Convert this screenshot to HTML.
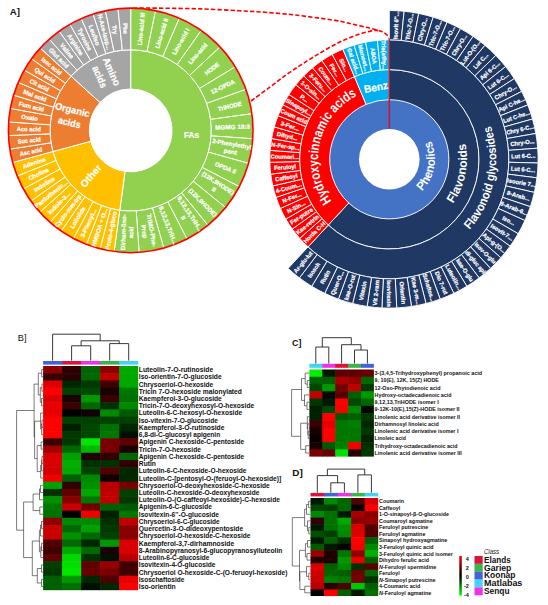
<!DOCTYPE html>
<html><head><meta charset="utf-8"><title>Figure</title>
<style>html,body{margin:0;padding:0;background:#fff;}svg{display:block;}text{font-family:"Liberation Sans",sans-serif;}</style></head><body>
<svg width="548" height="605" viewBox="0 0 548 605">
<rect width="548" height="605" fill="#fff"/>
<path d="M133.00,8.00 C138.00,8.03 151.57,8.05 163.00,8.20 C174.43,8.35 188.77,8.47 201.60,8.90 C214.43,9.33 229.43,10.23 240.00,10.80 C250.57,11.37 255.83,11.60 265.00,12.30 C274.17,13.00 283.33,13.65 295.00,15.00 C306.67,16.35 325.67,18.93 335.00,20.40 C344.33,21.87 345.42,22.57 351.00,23.80 C356.58,25.03 363.50,26.55 368.50,27.80 C373.50,29.05 378.00,30.18 381.00,31.30 C384.00,32.42 385.08,33.25 386.50,34.50 C387.92,35.75 389.00,38.08 389.50,38.80" fill="none" stroke="#FF0000" stroke-width="1.6" stroke-dasharray="4.4,2.1"/>
<path d="M251.00,101.00 C254.03,98.77 263.25,92.02 269.20,87.60 C275.15,83.18 280.87,78.63 286.70,74.50 C292.53,70.37 298.35,66.55 304.20,62.80 C310.05,59.05 315.95,55.42 321.80,52.00 C327.65,48.58 333.47,45.13 339.30,42.30 C345.13,39.47 351.45,36.90 356.80,35.00 C362.15,33.10 367.87,31.67 371.40,30.90 C374.93,30.13 376.90,30.48 378.00,30.40" fill="none" stroke="#FF0000" stroke-width="1.6" stroke-dasharray="4.4,2.1"/>
<path d="M130.70,49.80 A80.60,80.60 0 1 1 119.76,210.25 L125.08,171.42 A41.40,41.40 0 1 0 130.70,89.00 Z" fill="#92D050" stroke="#fff" stroke-width="1.0"/>
<path d="M130.70,8.10 A122.30,122.30 0 0 1 155.58,10.66 L147.10,51.49 A80.60,80.60 0 0 0 130.70,49.80 Z" fill="#92D050" stroke="#fff" stroke-width="1.0"/>
<path d="M155.58,10.66 A122.30,122.30 0 0 1 179.42,18.22 L162.81,56.47 A80.60,80.60 0 0 0 147.10,51.49 Z" fill="#92D050" stroke="#fff" stroke-width="1.0"/>
<path d="M179.42,18.22 A122.30,122.30 0 0 1 201.22,30.48 L177.17,64.55 A80.60,80.60 0 0 0 162.81,56.47 Z" fill="#92D050" stroke="#fff" stroke-width="1.0"/>
<path d="M201.22,30.48 A122.30,122.30 0 0 1 220.07,46.91 L189.60,75.38 A80.60,80.60 0 0 0 177.17,64.55 Z" fill="#92D050" stroke="#fff" stroke-width="1.0"/>
<path d="M220.07,46.91 A122.30,122.30 0 0 1 235.19,66.84 L199.56,88.51 A80.60,80.60 0 0 0 189.60,75.38 Z" fill="#92D050" stroke="#fff" stroke-width="1.0"/>
<path d="M235.19,66.84 A122.30,122.30 0 0 1 245.93,89.42 L206.64,103.40 A80.60,80.60 0 0 0 199.56,88.51 Z" fill="#92D050" stroke="#fff" stroke-width="1.0"/>
<path d="M245.93,89.42 A122.30,122.30 0 0 1 251.86,113.72 L210.55,119.41 A80.60,80.60 0 0 0 206.64,103.40 Z" fill="#92D050" stroke="#fff" stroke-width="1.0"/>
<path d="M251.86,113.72 A122.30,122.30 0 0 1 252.72,138.72 L211.11,135.88 A80.60,80.60 0 0 0 210.55,119.41 Z" fill="#92D050" stroke="#fff" stroke-width="1.0"/>
<path d="M252.72,138.72 A122.30,122.30 0 0 1 248.47,163.37 L208.32,152.13 A80.60,80.60 0 0 0 211.11,135.88 Z" fill="#92D050" stroke="#fff" stroke-width="1.0"/>
<path d="M248.47,163.37 A122.30,122.30 0 0 1 239.30,186.64 L202.27,167.46 A80.60,80.60 0 0 0 208.32,152.13 Z" fill="#92D050" stroke="#fff" stroke-width="1.0"/>
<path d="M239.30,186.64 A122.30,122.30 0 0 1 225.59,207.55 L193.24,181.25 A80.60,80.60 0 0 0 202.27,167.46 Z" fill="#92D050" stroke="#fff" stroke-width="1.0"/>
<path d="M225.59,207.55 A122.30,122.30 0 0 1 207.91,225.24 L181.59,192.90 A80.60,80.60 0 0 0 193.24,181.25 Z" fill="#92D050" stroke="#fff" stroke-width="1.0"/>
<path d="M207.91,225.24 A122.30,122.30 0 0 1 187.01,238.97 L167.81,201.95 A80.60,80.60 0 0 0 181.59,192.90 Z" fill="#92D050" stroke="#fff" stroke-width="1.0"/>
<path d="M187.01,238.97 A122.30,122.30 0 0 1 163.74,248.15 L152.48,208.00 A80.60,80.60 0 0 0 167.81,201.95 Z" fill="#92D050" stroke="#fff" stroke-width="1.0"/>
<path d="M163.74,248.15 A122.30,122.30 0 0 1 139.10,252.41 L136.23,210.81 A80.60,80.60 0 0 0 152.48,208.00 Z" fill="#92D050" stroke="#fff" stroke-width="1.0"/>
<path d="M139.10,252.41 A122.30,122.30 0 0 1 114.10,251.57 L119.76,210.25 A80.60,80.60 0 0 0 136.23,210.81 Z" fill="#92D050" stroke="#fff" stroke-width="1.0"/>
<path d="M119.76,210.25 A80.60,80.60 0 0 1 52.92,151.53 L90.75,141.25 A41.40,41.40 0 0 0 125.08,171.42 Z" fill="#FFC000" stroke="#fff" stroke-width="1.0"/>
<path d="M114.10,251.57 A122.30,122.30 0 0 1 100.08,248.80 L110.52,208.43 A80.60,80.60 0 0 0 119.76,210.25 Z" fill="#FFC000" stroke="#fff" stroke-width="1.0"/>
<path d="M100.08,248.80 A122.30,122.30 0 0 1 86.47,244.42 L101.55,205.55 A80.60,80.60 0 0 0 110.52,208.43 Z" fill="#FFC000" stroke="#fff" stroke-width="1.0"/>
<path d="M86.47,244.42 A122.30,122.30 0 0 1 73.47,238.48 L92.98,201.63 A80.60,80.60 0 0 0 101.55,205.55 Z" fill="#FFC000" stroke="#fff" stroke-width="1.0"/>
<path d="M73.47,238.48 A122.30,122.30 0 0 1 61.25,231.07 L84.93,196.74 A80.60,80.60 0 0 0 92.98,201.63 Z" fill="#FFC000" stroke="#fff" stroke-width="1.0"/>
<path d="M61.25,231.07 A122.30,122.30 0 0 1 49.98,222.28 L77.50,190.95 A80.60,80.60 0 0 0 84.93,196.74 Z" fill="#FFC000" stroke="#fff" stroke-width="1.0"/>
<path d="M49.98,222.28 A122.30,122.30 0 0 1 39.81,212.23 L70.80,184.33 A80.60,80.60 0 0 0 77.50,190.95 Z" fill="#FFC000" stroke="#fff" stroke-width="1.0"/>
<path d="M39.81,212.23 A122.30,122.30 0 0 1 30.89,201.07 L64.92,176.98 A80.60,80.60 0 0 0 70.80,184.33 Z" fill="#FFC000" stroke="#fff" stroke-width="1.0"/>
<path d="M30.89,201.07 A122.30,122.30 0 0 1 23.32,188.94 L59.93,168.98 A80.60,80.60 0 0 0 64.92,176.98 Z" fill="#FFC000" stroke="#fff" stroke-width="1.0"/>
<path d="M23.32,188.94 A122.30,122.30 0 0 1 17.23,176.02 L55.92,160.46 A80.60,80.60 0 0 0 59.93,168.98 Z" fill="#FFC000" stroke="#fff" stroke-width="1.0"/>
<path d="M17.23,176.02 A122.30,122.30 0 0 1 12.68,162.47 L52.92,151.53 A80.60,80.60 0 0 0 55.92,160.46 Z" fill="#FFC000" stroke="#fff" stroke-width="1.0"/>
<path d="M52.92,151.53 A80.60,80.60 0 0 1 71.09,76.16 L100.08,102.54 A41.40,41.40 0 0 0 90.75,141.25 Z" fill="#ED7D31" stroke="#fff" stroke-width="1.0"/>
<path d="M12.68,162.47 A122.30,122.30 0 0 1 9.84,149.13 L51.05,142.75 A80.60,80.60 0 0 0 52.92,151.53 Z" fill="#ED7D31" stroke="#fff" stroke-width="1.0"/>
<path d="M9.84,149.13 A122.30,122.30 0 0 1 8.51,135.57 L50.17,133.81 A80.60,80.60 0 0 0 51.05,142.75 Z" fill="#ED7D31" stroke="#fff" stroke-width="1.0"/>
<path d="M8.51,135.57 A122.30,122.30 0 0 1 8.69,121.94 L50.29,124.82 A80.60,80.60 0 0 0 50.17,133.81 Z" fill="#ED7D31" stroke="#fff" stroke-width="1.0"/>
<path d="M8.69,121.94 A122.30,122.30 0 0 1 10.39,108.42 L51.41,115.91 A80.60,80.60 0 0 0 50.29,124.82 Z" fill="#ED7D31" stroke="#fff" stroke-width="1.0"/>
<path d="M10.39,108.42 A122.30,122.30 0 0 1 13.59,95.16 L53.52,107.18 A80.60,80.60 0 0 0 51.41,115.91 Z" fill="#ED7D31" stroke="#fff" stroke-width="1.0"/>
<path d="M13.59,95.16 A122.30,122.30 0 0 1 18.23,82.35 L56.58,98.73 A80.60,80.60 0 0 0 53.52,107.18 Z" fill="#ED7D31" stroke="#fff" stroke-width="1.0"/>
<path d="M18.23,82.35 A122.30,122.30 0 0 1 24.28,70.14 L60.56,90.68 A80.60,80.60 0 0 0 56.58,98.73 Z" fill="#ED7D31" stroke="#fff" stroke-width="1.0"/>
<path d="M24.28,70.14 A122.30,122.30 0 0 1 31.65,58.67 L65.42,83.13 A80.60,80.60 0 0 0 60.56,90.68 Z" fill="#ED7D31" stroke="#fff" stroke-width="1.0"/>
<path d="M31.65,58.67 A122.30,122.30 0 0 1 40.24,48.09 L71.09,76.16 A80.60,80.60 0 0 0 65.42,83.13 Z" fill="#ED7D31" stroke="#fff" stroke-width="1.0"/>
<path d="M71.09,76.16 A80.60,80.60 0 0 1 130.70,49.80 L130.70,89.00 A41.40,41.40 0 0 0 100.08,102.54 Z" fill="#A5A5A5" stroke="#fff" stroke-width="1.0"/>
<path d="M40.24,48.09 A122.30,122.30 0 0 1 49.28,39.14 L77.04,70.26 A80.60,80.60 0 0 0 71.09,76.16 Z" fill="#A5A5A5" stroke="#fff" stroke-width="1.0"/>
<path d="M49.28,39.14 A122.30,122.30 0 0 1 59.20,31.18 L83.58,65.01 A80.60,80.60 0 0 0 77.04,70.26 Z" fill="#A5A5A5" stroke="#fff" stroke-width="1.0"/>
<path d="M59.20,31.18 A122.30,122.30 0 0 1 69.90,24.29 L90.63,60.47 A80.60,80.60 0 0 0 83.58,65.01 Z" fill="#A5A5A5" stroke="#fff" stroke-width="1.0"/>
<path d="M69.90,24.29 A122.30,122.30 0 0 1 81.25,18.54 L98.11,56.68 A80.60,80.60 0 0 0 90.63,60.47 Z" fill="#A5A5A5" stroke="#fff" stroke-width="1.0"/>
<path d="M81.25,18.54 A122.30,122.30 0 0 1 93.14,14.01 L105.94,53.70 A80.60,80.60 0 0 0 98.11,56.68 Z" fill="#A5A5A5" stroke="#fff" stroke-width="1.0"/>
<path d="M93.14,14.01 A122.30,122.30 0 0 1 105.43,10.74 L114.05,51.54 A80.60,80.60 0 0 0 105.94,53.70 Z" fill="#A5A5A5" stroke="#fff" stroke-width="1.0"/>
<path d="M105.43,10.74 A122.30,122.30 0 0 1 118.00,8.76 L122.33,50.24 A80.60,80.60 0 0 0 114.05,51.54 Z" fill="#A5A5A5" stroke="#fff" stroke-width="1.0"/>
<path d="M118.00,8.76 A122.30,122.30 0 0 1 130.70,8.10 L130.70,49.80 A80.60,80.60 0 0 0 122.33,50.24 Z" fill="#A5A5A5" stroke="#fff" stroke-width="1.0"/>
<circle cx="130.7" cy="130.4" r="122.3" fill="none" stroke="#FF0000" stroke-width="1.6"/>
<circle cx="130.7" cy="130.4" r="41.4" fill="#fff"/>
<text transform="translate(141.12,28.98) rotate(-84.13) scale(0.965,1)" x="0" y="2.21" font-size="6.14" font-weight="bold" fill="#fff" stroke="#fff" stroke-width="0.22" text-anchor="middle">Lino-acid III</text>
<text transform="translate(161.54,33.23) rotate(-72.39) scale(0.959,1)" x="0" y="2.21" font-size="6.14" font-weight="bold" fill="#fff" stroke="#fff" stroke-width="0.22" text-anchor="middle">Lino-acid II</text>
<text transform="translate(180.66,41.53) rotate(-60.66) scale(0.952,1)" x="0" y="2.21" font-size="6.14" font-weight="bold" fill="#fff" stroke="#fff" stroke-width="0.22" text-anchor="middle">Lino-acid I</text>
<text transform="translate(197.69,53.55) rotate(-48.92) scale(0.947,1)" x="0" y="2.21" font-size="6.14" font-weight="bold" fill="#fff" stroke="#fff" stroke-width="0.22" text-anchor="middle">Lino-acid</text>
<text transform="translate(211.93,68.79) rotate(-37.18) scale(0.943,1)" x="0" y="2.21" font-size="6.14" font-weight="bold" fill="#fff" stroke="#fff" stroke-width="0.22" text-anchor="middle">HODE</text>
<text transform="translate(222.76,86.60) rotate(-25.44) scale(0.976,1)" x="0" y="2.21" font-size="6.14" font-weight="bold" fill="#fff" stroke="#fff" stroke-width="0.22" text-anchor="middle">12-OPDA</text>
<text transform="translate(229.75,106.24) rotate(-13.71) scale(0.962,1)" x="0" y="2.21" font-size="6.14" font-weight="bold" fill="#fff" stroke="#fff" stroke-width="0.22" text-anchor="middle">TriHODE</text>
<text transform="translate(232.59,126.90) rotate(-1.97) scale(1.030,1)" x="0" y="2.21" font-size="6.14" font-weight="bold" fill="#fff" stroke="#fff" stroke-width="0.22" text-anchor="middle">MGMG 18:3</text>
<text transform="translate(231.17,147.70) rotate(9.77) scale(0.993,1)" x="0" y="-1.59" font-size="6.14" font-weight="bold" fill="#fff" stroke="#fff" stroke-width="0.22" text-anchor="middle">2-Phenylethyl</text>
<text transform="translate(231.17,147.70) rotate(9.77) scale(1.024,1)" x="0" y="6.01" font-size="6.14" font-weight="bold" fill="#fff" stroke="#fff" stroke-width="0.22" text-anchor="middle">pent</text>
<text transform="translate(225.55,167.78) rotate(21.51) scale(0.977,1)" x="0" y="2.21" font-size="6.14" font-weight="bold" fill="#fff" stroke="#fff" stroke-width="0.22" text-anchor="middle">OPDA II</text>
<text transform="translate(215.97,186.29) rotate(33.24) scale(0.970,1)" x="0" y="-1.59" font-size="6.14" font-weight="bold" fill="#fff" stroke="#fff" stroke-width="0.22" text-anchor="middle">(12K,9HODE)</text>
<text transform="translate(215.97,186.29) rotate(33.24) scale(1.080,1)" x="0" y="6.01" font-size="6.14" font-weight="bold" fill="#fff" stroke="#fff" stroke-width="0.22" text-anchor="middle">II</text>
<text transform="translate(202.81,202.47) rotate(44.98) scale(0.970,1)" x="0" y="2.21" font-size="6.14" font-weight="bold" fill="#fff" stroke="#fff" stroke-width="0.22" text-anchor="middle">(12K,9HODE)</text>
<text transform="translate(186.64,215.63) rotate(56.72) scale(1.026,1)" x="0" y="-1.59" font-size="6.14" font-weight="bold" fill="#fff" stroke="#fff" stroke-width="0.22" text-anchor="middle">9,12,13,TriH...</text>
<text transform="translate(186.64,215.63) rotate(56.72) scale(1.080,1)" x="0" y="6.01" font-size="6.14" font-weight="bold" fill="#fff" stroke="#fff" stroke-width="0.22" text-anchor="middle">II</text>
<text transform="translate(168.14,225.23) rotate(68.46) scale(1.026,1)" x="0" y="2.21" font-size="6.14" font-weight="bold" fill="#fff" stroke="#fff" stroke-width="0.22" text-anchor="middle">9,12,13,TriH...</text>
<text transform="translate(148.06,230.86) rotate(80.19) scale(1.018,1)" x="0" y="-1.59" font-size="6.14" font-weight="bold" fill="#fff" stroke="#fff" stroke-width="0.22" text-anchor="middle">TriMO-Phe-</text>
<text transform="translate(148.06,230.86) rotate(80.19) scale(0.968,1)" x="0" y="6.01" font-size="6.14" font-weight="bold" fill="#fff" stroke="#fff" stroke-width="0.22" text-anchor="middle">Prop</text>
<text transform="translate(127.26,232.29) rotate(-88.07) scale(1.002,1)" x="0" y="-1.59" font-size="6.14" font-weight="bold" fill="#fff" stroke="#fff" stroke-width="0.22" text-anchor="middle">Dirham-lino-</text>
<text transform="translate(127.26,232.29) rotate(-88.07) scale(0.952,1)" x="0" y="6.01" font-size="6.14" font-weight="bold" fill="#fff" stroke="#fff" stroke-width="0.22" text-anchor="middle">acid</text>
<text transform="translate(110.99,230.43) rotate(-78.85) scale(0.975,1)" x="0" y="2.21" font-size="6.14" font-weight="bold" fill="#fff" stroke="#fff" stroke-width="0.22" text-anchor="middle">Proto-4-gluco</text>
<text transform="translate(99.45,227.44) rotate(-72.15) scale(1.000,1)" x="0" y="2.21" font-size="6.14" font-weight="bold" fill="#fff" stroke="#fff" stroke-width="0.22" text-anchor="middle">HMBOA + O...</text>
<text transform="translate(88.34,223.13) rotate(-65.45) scale(0.998,1)" x="0" y="2.21" font-size="6.14" font-weight="bold" fill="#fff" stroke="#fff" stroke-width="0.22" text-anchor="middle">3-Phenyl...</text>
<text transform="translate(77.81,217.56) rotate(-58.75) scale(0.963,1)" x="0" y="2.21" font-size="6.14" font-weight="bold" fill="#fff" stroke="#fff" stroke-width="0.22" text-anchor="middle">Loliolide</text>
<text transform="translate(68.00,210.79) rotate(-52.05) scale(0.989,1)" x="0" y="2.21" font-size="6.14" font-weight="bold" fill="#fff" stroke="#fff" stroke-width="0.22" text-anchor="middle">Cyclo-met-trp</text>
<text transform="translate(59.05,202.93) rotate(-45.35) scale(1.021,1)" x="0" y="2.21" font-size="6.14" font-weight="bold" fill="#fff" stroke="#fff" stroke-width="0.22" text-anchor="middle">Indole-3...</text>
<text transform="translate(51.08,194.07) rotate(-38.65) scale(1.000,1)" x="0" y="2.21" font-size="6.14" font-weight="bold" fill="#fff" stroke="#fff" stroke-width="0.22" text-anchor="middle">Pantothenic...</text>
<text transform="translate(44.19,184.35) rotate(-31.95) scale(1.000,1)" x="0" y="2.21" font-size="6.14" font-weight="bold" fill="#fff" stroke="#fff" stroke-width="0.22" text-anchor="middle">Indoline</text>
<text transform="translate(38.49,173.89) rotate(-25.25) scale(0.961,1)" x="0" y="2.21" font-size="6.14" font-weight="bold" fill="#fff" stroke="#fff" stroke-width="0.22" text-anchor="middle">Choline</text>
<text transform="translate(34.05,162.83) rotate(-18.55) scale(0.988,1)" x="0" y="2.21" font-size="6.14" font-weight="bold" fill="#fff" stroke="#fff" stroke-width="0.22" text-anchor="middle">Adenine</text>
<text transform="translate(30.98,151.61) rotate(-12.01) scale(0.913,1)" x="0" y="2.21" font-size="6.14" font-weight="bold" fill="#fff" stroke="#fff" stroke-width="0.22" text-anchor="middle">Asc acid</text>
<text transform="translate(29.24,140.38) rotate(-5.62) scale(0.915,1)" x="0" y="2.21" font-size="6.14" font-weight="bold" fill="#fff" stroke="#fff" stroke-width="0.22" text-anchor="middle">Suc acid</text>
<text transform="translate(28.76,129.03) rotate(0.77) scale(0.939,1)" x="0" y="2.21" font-size="6.14" font-weight="bold" fill="#fff" stroke="#fff" stroke-width="0.22" text-anchor="middle">Aco acid</text>
<text transform="translate(29.55,117.69) rotate(7.16) scale(0.976,1)" x="0" y="2.21" font-size="6.14" font-weight="bold" fill="#fff" stroke="#fff" stroke-width="0.22" text-anchor="middle">Oxalo</text>
<text transform="translate(31.59,106.51) rotate(13.55) scale(0.955,1)" x="0" y="2.21" font-size="6.14" font-weight="bold" fill="#fff" stroke="#fff" stroke-width="0.22" text-anchor="middle">Fum acid</text>
<text transform="translate(34.86,95.63) rotate(19.94) scale(1.007,1)" x="0" y="2.21" font-size="6.14" font-weight="bold" fill="#fff" stroke="#fff" stroke-width="0.22" text-anchor="middle">Mal acid</text>
<text transform="translate(39.33,85.18) rotate(26.33) scale(0.947,1)" x="0" y="2.21" font-size="6.14" font-weight="bold" fill="#fff" stroke="#fff" stroke-width="0.22" text-anchor="middle">Cit acid</text>
<text transform="translate(44.92,75.30) rotate(32.72) scale(0.965,1)" x="0" y="2.21" font-size="6.14" font-weight="bold" fill="#fff" stroke="#fff" stroke-width="0.22" text-anchor="middle">Qui acid</text>
<text transform="translate(51.59,66.09) rotate(39.11) scale(0.930,1)" x="0" y="2.21" font-size="6.14" font-weight="bold" fill="#fff" stroke="#fff" stroke-width="0.22" text-anchor="middle">Isoc acid</text>
<text transform="translate(58.97,57.96) rotate(45.28) scale(0.969,1)" x="0" y="2.21" font-size="6.14" font-weight="bold" fill="#fff" stroke="#fff" stroke-width="0.22" text-anchor="middle">Glut acid</text>
<text transform="translate(66.88,50.90) rotate(51.24) scale(1.017,1)" x="0" y="2.21" font-size="6.14" font-weight="bold" fill="#fff" stroke="#fff" stroke-width="0.22" text-anchor="middle">Valine</text>
<text transform="translate(75.48,44.70) rotate(57.21) scale(0.971,1)" x="0" y="2.21" font-size="6.14" font-weight="bold" fill="#fff" stroke="#fff" stroke-width="0.22" text-anchor="middle">Arginine</text>
<text transform="translate(84.68,39.43) rotate(63.17) scale(0.974,1)" x="0" y="2.21" font-size="6.14" font-weight="bold" fill="#fff" stroke="#fff" stroke-width="0.22" text-anchor="middle">Tyrosine</text>
<text transform="translate(94.38,35.14) rotate(69.13) scale(0.994,1)" x="0" y="2.21" font-size="6.14" font-weight="bold" fill="#fff" stroke="#fff" stroke-width="0.22" text-anchor="middle">Leu/Iso</text>
<text transform="translate(104.47,31.88) rotate(75.09) scale(0.982,1)" x="0" y="2.21" font-size="6.14" font-weight="bold" fill="#fff" stroke="#fff" stroke-width="0.22" text-anchor="middle">N-Ace-Iasp...</text>
<text transform="translate(114.85,29.69) rotate(81.06) scale(0.991,1)" x="0" y="2.21" font-size="6.14" font-weight="bold" fill="#fff" stroke="#fff" stroke-width="0.22" text-anchor="middle">Try</text>
<text transform="translate(125.40,28.59) rotate(87.02) scale(0.963,1)" x="0" y="2.21" font-size="6.14" font-weight="bold" fill="#fff" stroke="#fff" stroke-width="0.22" text-anchor="middle">Phe</text>
<text transform="translate(191.56,134.55) rotate(0.00) scale(0.834,1)" x="0" y="3.52" font-size="9.79" font-weight="bold" fill="#fff" stroke="#fff" stroke-width="0.22" text-anchor="middle">FAs</text>
<text transform="translate(90.77,175.85) rotate(-48.70) scale(1.019,1)" x="0" y="3.52" font-size="9.79" font-weight="bold" fill="#fff" stroke="#fff" stroke-width="0.22" text-anchor="middle">Other</text>
<text transform="translate(70.91,115.99) rotate(13.55) scale(0.951,1)" x="0" y="-2.98" font-size="9.79" font-weight="bold" fill="#fff" stroke="#fff" stroke-width="0.22" text-anchor="middle">Organic</text>
<text transform="translate(70.91,115.99) rotate(13.55) scale(0.920,1)" x="0" y="10.02" font-size="9.79" font-weight="bold" fill="#fff" stroke="#fff" stroke-width="0.22" text-anchor="middle">acids</text>
<text transform="translate(105.83,74.15) rotate(66.15) scale(0.990,1)" x="0" y="-2.98" font-size="9.79" font-weight="bold" fill="#fff" stroke="#fff" stroke-width="0.22" text-anchor="middle">Amino</text>
<text transform="translate(105.83,74.15) rotate(66.15) scale(0.920,1)" x="0" y="10.02" font-size="9.79" font-weight="bold" fill="#fff" stroke="#fff" stroke-width="0.22" text-anchor="middle">acids</text>
<circle cx="389.3" cy="159.3" r="59.6" fill="#4472C4"/>
<circle cx="389.3" cy="159.3" r="30.3" fill="#fff"/>
<path d="M389.30,69.60 A89.70,89.70 0 1 1 328.29,225.05 L348.76,202.99 A59.60,59.60 0 1 0 389.30,99.70 Z" fill="#1F3864" stroke="#fff" stroke-width="0.9"/>
<path d="M328.29,225.05 A89.70,89.70 0 0 1 354.46,76.64 L366.15,104.38 A59.60,59.60 0 0 0 348.76,202.99 Z" fill="#FF0000" stroke="#fff" stroke-width="0.9"/>
<path d="M354.46,76.64 A89.70,89.70 0 0 1 389.30,69.60 L389.30,99.70 A59.60,59.60 0 0 0 366.15,104.38 Z" fill="#00B0F0" stroke="#fff" stroke-width="0.9"/>
<path d="M389.30,39.80 A119.50,119.50 0 1 1 308.02,246.90 L328.29,225.05 A89.70,89.70 0 1 0 389.30,69.60 Z" fill="#1F3864" stroke="#fff" stroke-width="0.9"/>
<path d="M308.02,246.90 A119.50,119.50 0 0 1 299.70,238.37 L322.04,218.65 A89.70,89.70 0 0 0 328.29,225.05 Z" fill="#FF0000" stroke="#fff" stroke-width="0.9"/>
<path d="M299.70,238.37 A119.50,119.50 0 0 1 292.27,229.06 L316.47,211.66 A89.70,89.70 0 0 0 322.04,218.65 Z" fill="#FF0000" stroke="#fff" stroke-width="0.9"/>
<path d="M292.27,229.06 A119.50,119.50 0 0 1 285.81,219.05 L311.62,204.15 A89.70,89.70 0 0 0 316.47,211.66 Z" fill="#FF0000" stroke="#fff" stroke-width="0.9"/>
<path d="M285.81,219.05 A119.50,119.50 0 0 1 280.38,208.45 L307.54,196.19 A89.70,89.70 0 0 0 311.62,204.15 Z" fill="#FF0000" stroke="#fff" stroke-width="0.9"/>
<path d="M280.38,208.45 A119.50,119.50 0 0 1 276.02,197.36 L304.27,187.87 A89.70,89.70 0 0 0 307.54,196.19 Z" fill="#FF0000" stroke="#fff" stroke-width="0.9"/>
<path d="M276.02,197.36 A119.50,119.50 0 0 1 272.80,185.89 L301.85,179.26 A89.70,89.70 0 0 0 304.27,187.87 Z" fill="#FF0000" stroke="#fff" stroke-width="0.9"/>
<path d="M272.80,185.89 A119.50,119.50 0 0 1 270.73,174.16 L300.30,170.45 A89.70,89.70 0 0 0 301.85,179.26 Z" fill="#FF0000" stroke="#fff" stroke-width="0.9"/>
<path d="M270.73,174.16 A119.50,119.50 0 0 1 269.84,162.28 L299.63,161.54 A89.70,89.70 0 0 0 300.30,170.45 Z" fill="#FF0000" stroke="#fff" stroke-width="0.9"/>
<path d="M269.84,162.28 A119.50,119.50 0 0 1 270.13,150.37 L299.85,152.60 A89.70,89.70 0 0 0 299.63,161.54 Z" fill="#FF0000" stroke="#fff" stroke-width="0.9"/>
<path d="M270.13,150.37 A119.50,119.50 0 0 1 271.62,138.55 L300.96,143.72 A89.70,89.70 0 0 0 299.85,152.60 Z" fill="#FF0000" stroke="#fff" stroke-width="0.9"/>
<path d="M271.62,138.55 A119.50,119.50 0 0 1 274.27,126.93 L302.95,135.01 A89.70,89.70 0 0 0 300.96,143.72 Z" fill="#FF0000" stroke="#fff" stroke-width="0.9"/>
<path d="M274.27,126.93 A119.50,119.50 0 0 1 278.06,115.64 L305.80,126.53 A89.70,89.70 0 0 0 302.95,135.01 Z" fill="#FF0000" stroke="#fff" stroke-width="0.9"/>
<path d="M278.06,115.64 A119.50,119.50 0 0 1 282.96,104.78 L309.48,118.38 A89.70,89.70 0 0 0 305.80,126.53 Z" fill="#FF0000" stroke="#fff" stroke-width="0.9"/>
<path d="M282.96,104.78 A119.50,119.50 0 0 1 288.92,94.47 L313.95,110.63 A89.70,89.70 0 0 0 309.48,118.38 Z" fill="#FF0000" stroke="#fff" stroke-width="0.9"/>
<path d="M288.92,94.47 A119.50,119.50 0 0 1 295.87,84.79 L319.17,103.37 A89.70,89.70 0 0 0 313.95,110.63 Z" fill="#FF0000" stroke="#fff" stroke-width="0.9"/>
<path d="M295.87,84.79 A119.50,119.50 0 0 1 303.75,75.86 L325.09,96.67 A89.70,89.70 0 0 0 319.17,103.37 Z" fill="#FF0000" stroke="#fff" stroke-width="0.9"/>
<path d="M303.75,75.86 A119.50,119.50 0 0 1 312.49,67.76 L331.64,90.59 A89.70,89.70 0 0 0 325.09,96.67 Z" fill="#FF0000" stroke="#fff" stroke-width="0.9"/>
<path d="M312.49,67.76 A119.50,119.50 0 0 1 321.98,60.56 L338.77,85.19 A89.70,89.70 0 0 0 331.64,90.59 Z" fill="#FF0000" stroke="#fff" stroke-width="0.9"/>
<path d="M321.98,60.56 A119.50,119.50 0 0 1 332.15,54.35 L346.40,80.52 A89.70,89.70 0 0 0 338.77,85.19 Z" fill="#FF0000" stroke="#fff" stroke-width="0.9"/>
<path d="M332.15,54.35 A119.50,119.50 0 0 1 342.88,49.18 L354.46,76.64 A89.70,89.70 0 0 0 346.40,80.52 Z" fill="#FF0000" stroke="#fff" stroke-width="0.9"/>
<path d="M342.88,49.18 A119.50,119.50 0 0 1 354.08,45.11 L362.86,73.59 A89.70,89.70 0 0 0 354.46,76.64 Z" fill="#00B0F0" stroke="#fff" stroke-width="0.9"/>
<path d="M354.08,45.11 A119.50,119.50 0 0 1 365.62,42.17 L371.53,71.38 A89.70,89.70 0 0 0 362.86,73.59 Z" fill="#00B0F0" stroke="#fff" stroke-width="0.9"/>
<path d="M365.62,42.17 A119.50,119.50 0 0 1 377.40,40.39 L380.37,70.05 A89.70,89.70 0 0 0 371.53,71.38 Z" fill="#00B0F0" stroke="#fff" stroke-width="0.9"/>
<path d="M377.40,40.39 A119.50,119.50 0 0 1 389.30,39.80 L389.30,69.60 A89.70,89.70 0 0 0 380.37,70.05 Z" fill="#00B0F0" stroke="#fff" stroke-width="0.9"/>
<path d="M389.30,10.50 A148.80,148.80 0 0 1 404.12,11.24 L401.20,40.39 A119.50,119.50 0 0 0 389.30,39.80 Z" fill="#1F3864" stroke="#fff" stroke-width="0.9"/>
<path d="M404.12,11.24 A148.80,148.80 0 0 1 418.78,13.45 L412.98,42.17 A119.50,119.50 0 0 0 401.20,40.39 Z" fill="#1F3864" stroke="#fff" stroke-width="0.9"/>
<path d="M418.78,13.45 A148.80,148.80 0 0 1 433.16,17.11 L424.52,45.11 A119.50,119.50 0 0 0 412.98,42.17 Z" fill="#1F3864" stroke="#fff" stroke-width="0.9"/>
<path d="M433.16,17.11 A148.80,148.80 0 0 1 447.10,22.18 L435.72,49.18 A119.50,119.50 0 0 0 424.52,45.11 Z" fill="#1F3864" stroke="#fff" stroke-width="0.9"/>
<path d="M447.10,22.18 A148.80,148.80 0 0 1 460.46,28.62 L446.45,54.35 A119.50,119.50 0 0 0 435.72,49.18 Z" fill="#1F3864" stroke="#fff" stroke-width="0.9"/>
<path d="M460.46,28.62 A148.80,148.80 0 0 1 473.12,36.36 L456.62,60.56 A119.50,119.50 0 0 0 446.45,54.35 Z" fill="#1F3864" stroke="#fff" stroke-width="0.9"/>
<path d="M473.12,36.36 A148.80,148.80 0 0 1 484.95,45.31 L466.11,67.76 A119.50,119.50 0 0 0 456.62,60.56 Z" fill="#1F3864" stroke="#fff" stroke-width="0.9"/>
<path d="M484.95,45.31 A148.80,148.80 0 0 1 495.82,55.40 L474.85,75.86 A119.50,119.50 0 0 0 466.11,67.76 Z" fill="#1F3864" stroke="#fff" stroke-width="0.9"/>
<path d="M495.82,55.40 A148.80,148.80 0 0 1 505.64,66.52 L482.73,84.79 A119.50,119.50 0 0 0 474.85,75.86 Z" fill="#1F3864" stroke="#fff" stroke-width="0.9"/>
<path d="M505.64,66.52 A148.80,148.80 0 0 1 514.30,78.57 L489.68,94.47 A119.50,119.50 0 0 0 482.73,84.79 Z" fill="#1F3864" stroke="#fff" stroke-width="0.9"/>
<path d="M514.30,78.57 A148.80,148.80 0 0 1 521.71,91.42 L495.64,104.78 A119.50,119.50 0 0 0 489.68,94.47 Z" fill="#1F3864" stroke="#fff" stroke-width="0.9"/>
<path d="M521.71,91.42 A148.80,148.80 0 0 1 527.81,104.94 L500.54,115.64 A119.50,119.50 0 0 0 495.64,104.78 Z" fill="#1F3864" stroke="#fff" stroke-width="0.9"/>
<path d="M527.81,104.94 A148.80,148.80 0 0 1 532.54,119.00 L504.33,126.93 A119.50,119.50 0 0 0 500.54,115.64 Z" fill="#1F3864" stroke="#fff" stroke-width="0.9"/>
<path d="M532.54,119.00 A148.80,148.80 0 0 1 535.84,133.46 L506.98,138.55 A119.50,119.50 0 0 0 504.33,126.93 Z" fill="#1F3864" stroke="#fff" stroke-width="0.9"/>
<path d="M535.84,133.46 A148.80,148.80 0 0 1 537.68,148.18 L508.47,150.37 A119.50,119.50 0 0 0 506.98,138.55 Z" fill="#1F3864" stroke="#fff" stroke-width="0.9"/>
<path d="M537.68,148.18 A148.80,148.80 0 0 1 538.05,163.01 L508.76,162.28 A119.50,119.50 0 0 0 508.47,150.37 Z" fill="#1F3864" stroke="#fff" stroke-width="0.9"/>
<path d="M538.05,163.01 A148.80,148.80 0 0 1 536.95,177.80 L507.87,174.16 A119.50,119.50 0 0 0 508.76,162.28 Z" fill="#1F3864" stroke="#fff" stroke-width="0.9"/>
<path d="M536.95,177.80 A148.80,148.80 0 0 1 534.37,192.41 L505.80,185.89 A119.50,119.50 0 0 0 507.87,174.16 Z" fill="#1F3864" stroke="#fff" stroke-width="0.9"/>
<path d="M534.37,192.41 A148.80,148.80 0 0 1 530.35,206.69 L502.58,197.36 A119.50,119.50 0 0 0 505.80,185.89 Z" fill="#1F3864" stroke="#fff" stroke-width="0.9"/>
<path d="M530.35,206.69 A148.80,148.80 0 0 1 524.93,220.50 L498.22,208.45 A119.50,119.50 0 0 0 502.58,197.36 Z" fill="#1F3864" stroke="#fff" stroke-width="0.9"/>
<path d="M524.93,220.50 A148.80,148.80 0 0 1 518.16,233.70 L492.79,219.05 A119.50,119.50 0 0 0 498.22,208.45 Z" fill="#1F3864" stroke="#fff" stroke-width="0.9"/>
<path d="M518.16,233.70 A148.80,148.80 0 0 1 510.12,246.16 L486.33,229.06 A119.50,119.50 0 0 0 492.79,219.05 Z" fill="#1F3864" stroke="#fff" stroke-width="0.9"/>
<path d="M510.12,246.16 A148.80,148.80 0 0 1 500.87,257.76 L478.90,238.37 A119.50,119.50 0 0 0 486.33,229.06 Z" fill="#1F3864" stroke="#fff" stroke-width="0.9"/>
<path d="M500.87,257.76 A148.80,148.80 0 0 1 490.51,268.38 L470.58,246.90 A119.50,119.50 0 0 0 478.90,238.37 Z" fill="#1F3864" stroke="#fff" stroke-width="0.9"/>
<path d="M490.51,268.38 A148.80,148.80 0 0 1 479.15,277.91 L461.45,254.56 A119.50,119.50 0 0 0 470.58,246.90 Z" fill="#1F3864" stroke="#fff" stroke-width="0.9"/>
<path d="M479.15,277.91 A148.80,148.80 0 0 1 466.89,286.27 L451.61,261.27 A119.50,119.50 0 0 0 461.45,254.56 Z" fill="#1F3864" stroke="#fff" stroke-width="0.9"/>
<path d="M466.89,286.27 A148.80,148.80 0 0 1 453.86,293.36 L441.15,266.97 A119.50,119.50 0 0 0 451.61,261.27 Z" fill="#1F3864" stroke="#fff" stroke-width="0.9"/>
<path d="M453.86,293.36 A148.80,148.80 0 0 1 440.19,299.13 L430.17,271.59 A119.50,119.50 0 0 0 441.15,266.97 Z" fill="#1F3864" stroke="#fff" stroke-width="0.9"/>
<path d="M440.19,299.13 A148.80,148.80 0 0 1 426.02,303.50 L418.79,275.10 A119.50,119.50 0 0 0 430.17,271.59 Z" fill="#1F3864" stroke="#fff" stroke-width="0.9"/>
<path d="M426.02,303.50 A148.80,148.80 0 0 1 411.48,306.44 L407.11,277.47 A119.50,119.50 0 0 0 418.79,275.10 Z" fill="#1F3864" stroke="#fff" stroke-width="0.9"/>
<path d="M411.48,306.44 A148.80,148.80 0 0 1 396.72,307.92 L395.26,278.65 A119.50,119.50 0 0 0 407.11,277.47 Z" fill="#1F3864" stroke="#fff" stroke-width="0.9"/>
<path d="M396.72,307.92 A148.80,148.80 0 0 1 381.88,307.92 L383.34,278.65 A119.50,119.50 0 0 0 395.26,278.65 Z" fill="#1F3864" stroke="#fff" stroke-width="0.9"/>
<path d="M381.88,307.92 A148.80,148.80 0 0 1 367.12,306.44 L371.49,277.47 A119.50,119.50 0 0 0 383.34,278.65 Z" fill="#1F3864" stroke="#fff" stroke-width="0.9"/>
<path d="M367.12,306.44 A148.80,148.80 0 0 1 352.58,303.50 L359.81,275.10 A119.50,119.50 0 0 0 371.49,277.47 Z" fill="#1F3864" stroke="#fff" stroke-width="0.9"/>
<path d="M352.58,303.50 A148.80,148.80 0 0 1 338.41,299.13 L348.43,271.59 A119.50,119.50 0 0 0 359.81,275.10 Z" fill="#1F3864" stroke="#fff" stroke-width="0.9"/>
<path d="M338.41,299.13 A148.80,148.80 0 0 1 324.74,293.36 L337.45,266.97 A119.50,119.50 0 0 0 348.43,271.59 Z" fill="#1F3864" stroke="#fff" stroke-width="0.9"/>
<path d="M324.74,293.36 A148.80,148.80 0 0 1 311.71,286.27 L326.99,261.27 A119.50,119.50 0 0 0 337.45,266.97 Z" fill="#1F3864" stroke="#fff" stroke-width="0.9"/>
<path d="M311.71,286.27 A148.80,148.80 0 0 1 299.45,277.91 L317.15,254.56 A119.50,119.50 0 0 0 326.99,261.27 Z" fill="#1F3864" stroke="#fff" stroke-width="0.9"/>
<path d="M299.45,277.91 A148.80,148.80 0 0 1 288.09,268.38 L308.02,246.90 A119.50,119.50 0 0 0 317.15,254.56 Z" fill="#1F3864" stroke="#fff" stroke-width="0.9"/>
<line x1="389.3" y1="38.5" x2="389.3" y2="128.5" stroke="#D0142C" stroke-width="1.5"/>
<text transform="translate(395.99,25.32) rotate(-87.14) scale(1.003,1)" x="0" y="2.11" font-size="5.87" font-weight="bold" fill="#fff" stroke="#fff" stroke-width="0.22" text-anchor="middle">Isovit 6"...</text>
<text transform="translate(409.29,26.65) rotate(-81.43) scale(1.001,1)" x="0" y="2.11" font-size="5.87" font-weight="bold" fill="#fff" stroke="#fff" stroke-width="0.22" text-anchor="middle">Tric-7-O...</text>
<text transform="translate(422.40,29.30) rotate(-75.71) scale(0.979,1)" x="0" y="2.11" font-size="5.87" font-weight="bold" fill="#fff" stroke="#fff" stroke-width="0.22" text-anchor="middle">Chry-O...</text>
<text transform="translate(435.18,33.24) rotate(-70.00) scale(1.001,1)" x="0" y="2.11" font-size="5.87" font-weight="bold" fill="#fff" stroke="#fff" stroke-width="0.22" text-anchor="middle">Tric-7-O...</text>
<text transform="translate(447.51,38.44) rotate(-64.29) scale(1.001,1)" x="0" y="2.11" font-size="5.87" font-weight="bold" fill="#fff" stroke="#fff" stroke-width="0.22" text-anchor="middle">Tric-7-O...</text>
<text transform="translate(459.25,44.83) rotate(-58.57) scale(0.979,1)" x="0" y="2.11" font-size="5.87" font-weight="bold" fill="#fff" stroke="#fff" stroke-width="0.22" text-anchor="middle">Chry-O...</text>
<text transform="translate(470.30,52.36) rotate(-52.86) scale(0.997,1)" x="0" y="2.11" font-size="5.87" font-weight="bold" fill="#fff" stroke="#fff" stroke-width="0.22" text-anchor="middle">Lut-O-(O...</text>
<text transform="translate(480.55,60.96) rotate(-47.14) scale(0.949,1)" x="0" y="2.11" font-size="5.87" font-weight="bold" fill="#fff" stroke="#fff" stroke-width="0.22" text-anchor="middle">Lut C...</text>
<text transform="translate(489.88,70.53) rotate(-41.43) scale(0.974,1)" x="0" y="2.11" font-size="5.87" font-weight="bold" fill="#fff" stroke="#fff" stroke-width="0.22" text-anchor="middle">Api 6-C...</text>
<text transform="translate(498.22,80.99) rotate(-35.71) scale(0.966,1)" x="0" y="2.11" font-size="5.87" font-weight="bold" fill="#fff" stroke="#fff" stroke-width="0.22" text-anchor="middle">Lut 6-C...</text>
<text transform="translate(505.48,92.22) rotate(-30.00) scale(0.979,1)" x="0" y="2.11" font-size="5.87" font-weight="bold" fill="#fff" stroke="#fff" stroke-width="0.22" text-anchor="middle">Chry-O...</text>
<text transform="translate(511.58,104.13) rotate(-24.29) scale(0.975,1)" x="0" y="2.11" font-size="5.87" font-weight="bold" fill="#fff" stroke="#fff" stroke-width="0.22" text-anchor="middle">Api C-he...</text>
<text transform="translate(516.46,116.58) rotate(-18.57) scale(0.967,1)" x="0" y="2.11" font-size="5.87" font-weight="bold" fill="#fff" stroke="#fff" stroke-width="0.22" text-anchor="middle">Lut C-he...</text>
<text transform="translate(520.09,129.45) rotate(-12.86) scale(0.958,1)" x="0" y="2.11" font-size="5.87" font-weight="bold" fill="#fff" stroke="#fff" stroke-width="0.22" text-anchor="middle">Chry 6-C...</text>
<text transform="translate(522.41,142.62) rotate(-7.14) scale(0.979,1)" x="0" y="2.11" font-size="5.87" font-weight="bold" fill="#fff" stroke="#fff" stroke-width="0.22" text-anchor="middle">Chry-O...</text>
<text transform="translate(523.41,155.96) rotate(-1.43) scale(0.966,1)" x="0" y="2.11" font-size="5.87" font-weight="bold" fill="#fff" stroke="#fff" stroke-width="0.22" text-anchor="middle">Lut 6-C...</text>
<text transform="translate(523.07,169.33) rotate(4.29) scale(0.966,1)" x="0" y="2.11" font-size="5.87" font-weight="bold" fill="#fff" stroke="#fff" stroke-width="0.22" text-anchor="middle">Lut 6-C...</text>
<text transform="translate(521.41,182.59) rotate(10.00) scale(0.995,1)" x="0" y="2.11" font-size="5.87" font-weight="bold" fill="#fff" stroke="#fff" stroke-width="0.22" text-anchor="middle">Isoorie 7...</text>
<text transform="translate(518.44,195.63) rotate(15.71) scale(1.013,1)" x="0" y="2.11" font-size="5.87" font-weight="bold" fill="#fff" stroke="#fff" stroke-width="0.22" text-anchor="middle">8-Arab...</text>
<text transform="translate(514.18,208.31) rotate(21.43) scale(1.015,1)" x="0" y="2.11" font-size="5.87" font-weight="bold" fill="#fff" stroke="#fff" stroke-width="0.22" text-anchor="middle">8-Arab-6...</text>
<text transform="translate(508.68,220.50) rotate(27.14) scale(0.989,1)" x="0" y="2.11" font-size="5.87" font-weight="bold" fill="#fff" stroke="#fff" stroke-width="0.22" text-anchor="middle">Iso...</text>
<text transform="translate(501.99,232.08) rotate(32.86) scale(1.007,1)" x="0" y="2.11" font-size="5.87" font-weight="bold" fill="#fff" stroke="#fff" stroke-width="0.22" text-anchor="middle">Isovit-7...</text>
<text transform="translate(494.18,242.94) rotate(38.57) scale(0.992,1)" x="0" y="2.11" font-size="5.87" font-weight="bold" fill="#fff" stroke="#fff" stroke-width="0.22" text-anchor="middle">Api-g-(O...</text>
<text transform="translate(485.33,252.97) rotate(44.29) scale(0.959,1)" x="0" y="2.11" font-size="5.87" font-weight="bold" fill="#fff" stroke="#fff" stroke-width="0.22" text-anchor="middle">Isov-O-glu</text>
<text transform="translate(475.53,262.06) rotate(50.00) scale(0.959,1)" x="0" y="2.11" font-size="5.87" font-weight="bold" fill="#fff" stroke="#fff" stroke-width="0.22" text-anchor="middle">di-gluc api</text>
<text transform="translate(464.87,270.14) rotate(55.71) scale(0.980,1)" x="0" y="2.11" font-size="5.87" font-weight="bold" fill="#fff" stroke="#fff" stroke-width="0.22" text-anchor="middle">kae-O-glu</text>
<text transform="translate(453.46,277.11) rotate(61.43) scale(0.994,1)" x="0" y="2.11" font-size="5.87" font-weight="bold" fill="#fff" stroke="#fff" stroke-width="0.22" text-anchor="middle">Luteolin...</text>
<text transform="translate(441.41,282.92) rotate(67.14) scale(1.009,1)" x="0" y="2.11" font-size="5.87" font-weight="bold" fill="#fff" stroke="#fff" stroke-width="0.22" text-anchor="middle">Dio 7-rut</text>
<text transform="translate(428.84,287.49) rotate(72.86) scale(0.961,1)" x="0" y="2.11" font-size="5.87" font-weight="bold" fill="#fff" stroke="#fff" stroke-width="0.22" text-anchor="middle">Schaftos...</text>
<text transform="translate(415.88,290.79) rotate(78.57) scale(0.998,1)" x="0" y="2.11" font-size="5.87" font-weight="bold" fill="#fff" stroke="#fff" stroke-width="0.22" text-anchor="middle">Kae 3-m...</text>
<text transform="translate(402.66,292.78) rotate(84.29) scale(1.010,1)" x="0" y="2.11" font-size="5.87" font-weight="bold" fill="#fff" stroke="#fff" stroke-width="0.22" text-anchor="middle">Orientin</text>
<text transform="translate(389.30,293.45) rotate(90.00) scale(0.978,1)" x="0" y="2.11" font-size="5.87" font-weight="bold" fill="#fff" stroke="#fff" stroke-width="0.22" text-anchor="middle">Isovitexin</text>
<text transform="translate(375.94,292.78) rotate(-84.29) scale(1.024,1)" x="0" y="2.11" font-size="5.87" font-weight="bold" fill="#fff" stroke="#fff" stroke-width="0.22" text-anchor="middle">Vit 2-ram</text>
<text transform="translate(362.72,290.79) rotate(-78.57) scale(1.009,1)" x="0" y="2.11" font-size="5.87" font-weight="bold" fill="#fff" stroke="#fff" stroke-width="0.22" text-anchor="middle">Vitexin</text>
<text transform="translate(349.76,287.49) rotate(-72.86) scale(1.012,1)" x="0" y="2.11" font-size="5.87" font-weight="bold" fill="#fff" stroke="#fff" stroke-width="0.22" text-anchor="middle">kae-O-rut</text>
<text transform="translate(337.19,282.92) rotate(-67.14) scale(1.015,1)" x="0" y="2.11" font-size="5.87" font-weight="bold" fill="#fff" stroke="#fff" stroke-width="0.22" text-anchor="middle">Quer-O...</text>
<text transform="translate(325.14,277.11) rotate(-61.43) scale(0.981,1)" x="0" y="2.11" font-size="5.87" font-weight="bold" fill="#fff" stroke="#fff" stroke-width="0.22" text-anchor="middle">Rutin</text>
<text transform="translate(313.73,270.14) rotate(-55.71) scale(0.907,1)" x="0" y="2.11" font-size="5.87" font-weight="bold" fill="#fff" stroke="#fff" stroke-width="0.22" text-anchor="middle">Isosch</text>
<text transform="translate(303.07,262.06) rotate(-50.00) scale(0.989,1)" x="0" y="2.11" font-size="5.87" font-weight="bold" fill="#fff" stroke="#fff" stroke-width="0.22" text-anchor="middle">Ar-glu-lut</text>
<text transform="translate(314.42,232.34) rotate(-44.29) scale(0.965,1)" x="0" y="2.11" font-size="5.87" font-weight="bold" fill="#fff" stroke="#fff" stroke-width="0.22" text-anchor="middle">Horda C-H</text>
<text transform="translate(307.52,224.52) rotate(-38.57) scale(0.997,1)" x="0" y="2.11" font-size="5.87" font-weight="bold" fill="#fff" stroke="#fff" stroke-width="0.22" text-anchor="middle">Kae-retrin</text>
<text transform="translate(301.43,216.05) rotate(-32.86) scale(0.999,1)" x="0" y="2.11" font-size="5.87" font-weight="bold" fill="#fff" stroke="#fff" stroke-width="0.22" text-anchor="middle">Fer-putre</text>
<text transform="translate(296.22,207.02) rotate(-27.14) scale(0.986,1)" x="0" y="2.11" font-size="5.87" font-weight="bold" fill="#fff" stroke="#fff" stroke-width="0.22" text-anchor="middle">N-Sin...</text>
<text transform="translate(291.93,197.51) rotate(-21.43) scale(1.022,1)" x="0" y="2.11" font-size="5.87" font-weight="bold" fill="#fff" stroke="#fff" stroke-width="0.22" text-anchor="middle">N-Fer...</text>
<text transform="translate(288.61,187.63) rotate(-15.71) scale(0.994,1)" x="0" y="2.11" font-size="5.87" font-weight="bold" fill="#fff" stroke="#fff" stroke-width="0.22" text-anchor="middle">4-Coum...</text>
<text transform="translate(286.29,177.46) rotate(-10.00) scale(0.973,1)" x="0" y="2.11" font-size="5.87" font-weight="bold" fill="#fff" stroke="#fff" stroke-width="0.22" text-anchor="middle">Caffeoyl</text>
<text transform="translate(284.99,167.12) rotate(-4.29) scale(0.970,1)" x="0" y="2.11" font-size="5.87" font-weight="bold" fill="#fff" stroke="#fff" stroke-width="0.22" text-anchor="middle">Feruloyl</text>
<text transform="translate(284.73,156.69) rotate(1.43) scale(0.991,1)" x="0" y="2.11" font-size="5.87" font-weight="bold" fill="#fff" stroke="#fff" stroke-width="0.22" text-anchor="middle">Coumari...</text>
<text transform="translate(285.51,146.29) rotate(7.14) scale(0.983,1)" x="0" y="2.11" font-size="5.87" font-weight="bold" fill="#fff" stroke="#fff" stroke-width="0.22" text-anchor="middle">N-Fer-sp...</text>
<text transform="translate(287.32,136.02) rotate(12.86) scale(1.003,1)" x="0" y="2.11" font-size="5.87" font-weight="bold" fill="#fff" stroke="#fff" stroke-width="0.22" text-anchor="middle">Dihyd...</text>
<text transform="translate(290.15,125.99) rotate(18.57) scale(1.022,1)" x="0" y="2.11" font-size="5.87" font-weight="bold" fill="#fff" stroke="#fff" stroke-width="0.22" text-anchor="middle">3-Fer...</text>
<text transform="translate(293.96,116.28) rotate(24.29) scale(0.954,1)" x="0" y="2.11" font-size="5.87" font-weight="bold" fill="#fff" stroke="#fff" stroke-width="0.22" text-anchor="middle">Coum acid</text>
<text transform="translate(298.71,107.00) rotate(30.00) scale(0.976,1)" x="0" y="2.11" font-size="5.87" font-weight="bold" fill="#fff" stroke="#fff" stroke-width="0.22" text-anchor="middle">Sinapoyl...</text>
<text transform="translate(304.37,98.24) rotate(35.71) scale(1.092,1)" x="0" y="2.11" font-size="5.87" font-weight="bold" fill="#fff" stroke="#fff" stroke-width="0.22" text-anchor="middle">P...</text>
<text transform="translate(310.87,90.09) rotate(41.43) scale(0.992,1)" x="0" y="2.11" font-size="5.87" font-weight="bold" fill="#fff" stroke="#fff" stroke-width="0.22" text-anchor="middle">1-O-sin...</text>
<text transform="translate(318.15,82.62) rotate(47.14) scale(1.002,1)" x="0" y="2.11" font-size="5.87" font-weight="bold" fill="#fff" stroke="#fff" stroke-width="0.22" text-anchor="middle">3-Feru...</text>
<text transform="translate(326.14,75.92) rotate(52.86) scale(0.986,1)" x="0" y="2.11" font-size="5.87" font-weight="bold" fill="#fff" stroke="#fff" stroke-width="0.22" text-anchor="middle">Coum...</text>
<text transform="translate(334.76,70.05) rotate(58.57) scale(1.019,1)" x="0" y="2.11" font-size="5.87" font-weight="bold" fill="#fff" stroke="#fff" stroke-width="0.22" text-anchor="middle">Fer...</text>
<text transform="translate(343.92,65.06) rotate(64.29) scale(0.967,1)" x="0" y="2.11" font-size="5.87" font-weight="bold" fill="#fff" stroke="#fff" stroke-width="0.22" text-anchor="middle">Sin...</text>
<text transform="translate(353.52,61.01) rotate(70.00) scale(0.975,1)" x="0" y="2.11" font-size="5.87" font-weight="bold" fill="#fff" stroke="#fff" stroke-width="0.22" text-anchor="middle">Gal acid...</text>
<text transform="translate(363.49,57.93) rotate(75.71) scale(1.060,1)" x="0" y="2.11" font-size="5.87" font-weight="bold" fill="#fff" stroke="#fff" stroke-width="0.22" text-anchor="middle">Monoet...</text>
<text transform="translate(373.71,55.87) rotate(81.43) scale(0.935,1)" x="0" y="2.11" font-size="5.87" font-weight="bold" fill="#fff" stroke="#fff" stroke-width="0.22" text-anchor="middle">ABOA</text>
<text transform="translate(384.09,54.83) rotate(87.14) scale(1.019,1)" x="0" y="2.11" font-size="5.87" font-weight="bold" fill="#fff" stroke="#fff" stroke-width="0.22" text-anchor="middle">Tris(ethy...</text>
<defs>
<path id="pPhen" d="M404.90,202.15 A45.6,45.6 0 0 0 412.10,119.81" fill="none"/>
<path id="pFlav" d="M428.10,226.50 A77.6,77.6 0 0 0 448.75,109.42" fill="none"/>
<path id="pFlgl" d="M442.70,251.79 A106.8,106.8 0 0 0 471.11,90.65" fill="none"/>
<path id="pHyd" d="M364.91,226.30 A71.3,71.3 0 0 1 386.81,88.04" fill="none"/>
</defs>
<text font-size="12.1" font-weight="bold" fill="#fff" text-anchor="middle" textLength="54" lengthAdjust="spacingAndGlyphs"><textPath href="#pPhen" startOffset="46%" textLength="54" lengthAdjust="spacingAndGlyphs">Phenolics</textPath></text>
<text font-size="12.1" font-weight="bold" fill="#fff" text-anchor="middle" textLength="63" lengthAdjust="spacingAndGlyphs"><textPath href="#pFlav" startOffset="48.5%" textLength="63" lengthAdjust="spacingAndGlyphs">Flavonoids</textPath></text>
<text font-size="12.1" font-weight="bold" fill="#fff" text-anchor="middle" textLength="111" lengthAdjust="spacingAndGlyphs"><textPath href="#pFlgl" startOffset="48.5%" textLength="111" lengthAdjust="spacingAndGlyphs">Flavonoid glycosides</textPath></text>
<text font-size="13.6" font-weight="bold" fill="#fff" text-anchor="middle" textLength="123" lengthAdjust="spacingAndGlyphs"><textPath href="#pHyd" startOffset="52.8%" textLength="123" lengthAdjust="spacingAndGlyphs">Hydroxycinnamic acids</textPath></text>
<text transform="translate(375.91,87.03) rotate(-10.50) scale(0.940,1)" x="0" y="3.84" font-size="10.68" font-weight="bold" fill="#fff" stroke="#fff" stroke-width="0.22" text-anchor="middle">Benz</text>
<rect x="43.10" y="361.0" width="19.62" height="3.6" fill="#4363D8"/>
<rect x="62.12" y="361.0" width="19.62" height="3.6" fill="#DC143C"/>
<rect x="81.14" y="361.0" width="19.62" height="3.6" fill="#F032E6"/>
<rect x="100.16" y="361.0" width="19.62" height="3.6" fill="#3CB44B"/>
<rect x="119.18" y="361.0" width="19.02" height="3.6" fill="#42D4F4"/>
<rect x="43.10" y="366.00" width="19.62" height="7.83" fill="#8B0000"/>
<rect x="62.12" y="366.00" width="19.62" height="7.83" fill="#2A0000"/>
<rect x="81.14" y="366.00" width="19.62" height="7.83" fill="#006400"/>
<rect x="100.16" y="366.00" width="19.62" height="7.83" fill="#8B0000"/>
<rect x="119.18" y="366.00" width="19.02" height="7.83" fill="#00AA00"/>
<rect x="43.10" y="373.23" width="19.62" height="7.83" fill="#3A0000"/>
<rect x="62.12" y="373.23" width="19.62" height="7.83" fill="#2A0000"/>
<rect x="81.14" y="373.23" width="19.62" height="7.83" fill="#006800"/>
<rect x="100.16" y="373.23" width="19.62" height="7.83" fill="#C00000"/>
<rect x="119.18" y="373.23" width="19.02" height="7.83" fill="#00A800"/>
<rect x="43.10" y="380.46" width="19.62" height="7.83" fill="#DD0000"/>
<rect x="62.12" y="380.46" width="19.62" height="7.83" fill="#002800"/>
<rect x="81.14" y="380.46" width="19.62" height="7.83" fill="#003800"/>
<rect x="100.16" y="380.46" width="19.62" height="7.83" fill="#400000"/>
<rect x="119.18" y="380.46" width="19.02" height="7.83" fill="#00A800"/>
<rect x="43.10" y="387.70" width="19.62" height="7.83" fill="#FF0000"/>
<rect x="62.12" y="387.70" width="19.62" height="7.83" fill="#004000"/>
<rect x="81.14" y="387.70" width="19.62" height="7.83" fill="#004800"/>
<rect x="100.16" y="387.70" width="19.62" height="7.83" fill="#1A0000"/>
<rect x="119.18" y="387.70" width="19.02" height="7.83" fill="#007800"/>
<rect x="43.10" y="394.93" width="19.62" height="7.83" fill="#D80000"/>
<rect x="62.12" y="394.93" width="19.62" height="7.83" fill="#1A0000"/>
<rect x="81.14" y="394.93" width="19.62" height="7.83" fill="#009800"/>
<rect x="100.16" y="394.93" width="19.62" height="7.83" fill="#3A0000"/>
<rect x="119.18" y="394.93" width="19.02" height="7.83" fill="#007000"/>
<rect x="43.10" y="402.16" width="19.62" height="7.83" fill="#E80000"/>
<rect x="62.12" y="402.16" width="19.62" height="7.83" fill="#3A0000"/>
<rect x="81.14" y="402.16" width="19.62" height="7.83" fill="#006800"/>
<rect x="100.16" y="402.16" width="19.62" height="7.83" fill="#003000"/>
<rect x="119.18" y="402.16" width="19.02" height="7.83" fill="#008800"/>
<rect x="43.10" y="409.39" width="19.62" height="7.83" fill="#E80000"/>
<rect x="62.12" y="409.39" width="19.62" height="7.83" fill="#000000"/>
<rect x="81.14" y="409.39" width="19.62" height="7.83" fill="#100000"/>
<rect x="100.16" y="409.39" width="19.62" height="7.83" fill="#008800"/>
<rect x="119.18" y="409.39" width="19.02" height="7.83" fill="#005800"/>
<rect x="43.10" y="416.62" width="19.62" height="7.83" fill="#FF0000"/>
<rect x="62.12" y="416.62" width="19.62" height="7.83" fill="#004000"/>
<rect x="81.14" y="416.62" width="19.62" height="7.83" fill="#004000"/>
<rect x="100.16" y="416.62" width="19.62" height="7.83" fill="#004000"/>
<rect x="119.18" y="416.62" width="19.02" height="7.83" fill="#004000"/>
<rect x="43.10" y="423.86" width="19.62" height="7.83" fill="#FF0000"/>
<rect x="62.12" y="423.86" width="19.62" height="7.83" fill="#002000"/>
<rect x="81.14" y="423.86" width="19.62" height="7.83" fill="#004800"/>
<rect x="100.16" y="423.86" width="19.62" height="7.83" fill="#007000"/>
<rect x="119.18" y="423.86" width="19.02" height="7.83" fill="#002800"/>
<rect x="43.10" y="431.09" width="19.62" height="7.83" fill="#FF0000"/>
<rect x="62.12" y="431.09" width="19.62" height="7.83" fill="#003800"/>
<rect x="81.14" y="431.09" width="19.62" height="7.83" fill="#004800"/>
<rect x="100.16" y="431.09" width="19.62" height="7.83" fill="#007800"/>
<rect x="119.18" y="431.09" width="19.02" height="7.83" fill="#001000"/>
<rect x="43.10" y="438.32" width="19.62" height="7.83" fill="#3A0000"/>
<rect x="62.12" y="438.32" width="19.62" height="7.83" fill="#003800"/>
<rect x="81.14" y="438.32" width="19.62" height="7.83" fill="#00E800"/>
<rect x="100.16" y="438.32" width="19.62" height="7.83" fill="#780000"/>
<rect x="119.18" y="438.32" width="19.02" height="7.83" fill="#600000"/>
<rect x="43.10" y="445.55" width="19.62" height="7.83" fill="#A00000"/>
<rect x="62.12" y="445.55" width="19.62" height="7.83" fill="#006800"/>
<rect x="81.14" y="445.55" width="19.62" height="7.83" fill="#00B800"/>
<rect x="100.16" y="445.55" width="19.62" height="7.83" fill="#780000"/>
<rect x="119.18" y="445.55" width="19.02" height="7.83" fill="#1A0000"/>
<rect x="43.10" y="452.78" width="19.62" height="7.83" fill="#D80000"/>
<rect x="62.12" y="452.78" width="19.62" height="7.83" fill="#00A000"/>
<rect x="81.14" y="452.78" width="19.62" height="7.83" fill="#200000"/>
<rect x="100.16" y="452.78" width="19.62" height="7.83" fill="#300000"/>
<rect x="119.18" y="452.78" width="19.02" height="7.83" fill="#006800"/>
<rect x="43.10" y="460.02" width="19.62" height="7.83" fill="#D80000"/>
<rect x="62.12" y="460.02" width="19.62" height="7.83" fill="#00B000"/>
<rect x="81.14" y="460.02" width="19.62" height="7.83" fill="#003000"/>
<rect x="100.16" y="460.02" width="19.62" height="7.83" fill="#003000"/>
<rect x="119.18" y="460.02" width="19.02" height="7.83" fill="#300000"/>
<rect x="43.10" y="467.25" width="19.62" height="7.83" fill="#D00000"/>
<rect x="62.12" y="467.25" width="19.62" height="7.83" fill="#00A800"/>
<rect x="81.14" y="467.25" width="19.62" height="7.83" fill="#004000"/>
<rect x="100.16" y="467.25" width="19.62" height="7.83" fill="#500000"/>
<rect x="119.18" y="467.25" width="19.02" height="7.83" fill="#002800"/>
<rect x="43.10" y="474.48" width="19.62" height="7.83" fill="#F00000"/>
<rect x="62.12" y="474.48" width="19.62" height="7.83" fill="#006000"/>
<rect x="81.14" y="474.48" width="19.62" height="7.83" fill="#008800"/>
<rect x="100.16" y="474.48" width="19.62" height="7.83" fill="#100000"/>
<rect x="119.18" y="474.48" width="19.02" height="7.83" fill="#002800"/>
<rect x="43.10" y="481.71" width="19.62" height="7.83" fill="#00A000"/>
<rect x="62.12" y="481.71" width="19.62" height="7.83" fill="#300000"/>
<rect x="81.14" y="481.71" width="19.62" height="7.83" fill="#009000"/>
<rect x="100.16" y="481.71" width="19.62" height="7.83" fill="#B80000"/>
<rect x="119.18" y="481.71" width="19.02" height="7.83" fill="#780000"/>
<rect x="43.10" y="488.94" width="19.62" height="7.83" fill="#003000"/>
<rect x="62.12" y="488.94" width="19.62" height="7.83" fill="#600000"/>
<rect x="81.14" y="488.94" width="19.62" height="7.83" fill="#00A800"/>
<rect x="100.16" y="488.94" width="19.62" height="7.83" fill="#C00000"/>
<rect x="119.18" y="488.94" width="19.02" height="7.83" fill="#004000"/>
<rect x="43.10" y="496.18" width="19.62" height="7.83" fill="#009000"/>
<rect x="62.12" y="496.18" width="19.62" height="7.83" fill="#880000"/>
<rect x="81.14" y="496.18" width="19.62" height="7.83" fill="#007800"/>
<rect x="100.16" y="496.18" width="19.62" height="7.83" fill="#C00000"/>
<rect x="119.18" y="496.18" width="19.02" height="7.83" fill="#003800"/>
<rect x="43.10" y="503.41" width="19.62" height="7.83" fill="#007800"/>
<rect x="62.12" y="503.41" width="19.62" height="7.83" fill="#C80000"/>
<rect x="81.14" y="503.41" width="19.62" height="7.83" fill="#700000"/>
<rect x="100.16" y="503.41" width="19.62" height="7.83" fill="#006000"/>
<rect x="119.18" y="503.41" width="19.02" height="7.83" fill="#005800"/>
<rect x="43.10" y="510.64" width="19.62" height="7.83" fill="#007000"/>
<rect x="62.12" y="510.64" width="19.62" height="7.83" fill="#000000"/>
<rect x="81.14" y="510.64" width="19.62" height="7.83" fill="#F00000"/>
<rect x="100.16" y="510.64" width="19.62" height="7.83" fill="#002000"/>
<rect x="119.18" y="510.64" width="19.02" height="7.83" fill="#007800"/>
<rect x="43.10" y="517.87" width="19.62" height="7.83" fill="#900000"/>
<rect x="62.12" y="517.87" width="19.62" height="7.83" fill="#008800"/>
<rect x="81.14" y="517.87" width="19.62" height="7.83" fill="#008800"/>
<rect x="100.16" y="517.87" width="19.62" height="7.83" fill="#003000"/>
<rect x="119.18" y="517.87" width="19.02" height="7.83" fill="#C00000"/>
<rect x="43.10" y="525.10" width="19.62" height="7.83" fill="#C80000"/>
<rect x="62.12" y="525.10" width="19.62" height="7.83" fill="#006800"/>
<rect x="81.14" y="525.10" width="19.62" height="7.83" fill="#00A000"/>
<rect x="100.16" y="525.10" width="19.62" height="7.83" fill="#003800"/>
<rect x="119.18" y="525.10" width="19.02" height="7.83" fill="#880000"/>
<rect x="43.10" y="532.34" width="19.62" height="7.83" fill="#C80000"/>
<rect x="62.12" y="532.34" width="19.62" height="7.83" fill="#009000"/>
<rect x="81.14" y="532.34" width="19.62" height="7.83" fill="#006800"/>
<rect x="100.16" y="532.34" width="19.62" height="7.83" fill="#004000"/>
<rect x="119.18" y="532.34" width="19.02" height="7.83" fill="#880000"/>
<rect x="43.10" y="539.57" width="19.62" height="7.83" fill="#500000"/>
<rect x="62.12" y="539.57" width="19.62" height="7.83" fill="#006800"/>
<rect x="81.14" y="539.57" width="19.62" height="7.83" fill="#002800"/>
<rect x="100.16" y="539.57" width="19.62" height="7.83" fill="#009800"/>
<rect x="119.18" y="539.57" width="19.02" height="7.83" fill="#D80000"/>
<rect x="43.10" y="546.80" width="19.62" height="7.83" fill="#400000"/>
<rect x="62.12" y="546.80" width="19.62" height="7.83" fill="#00A800"/>
<rect x="81.14" y="546.80" width="19.62" height="7.83" fill="#006800"/>
<rect x="100.16" y="546.80" width="19.62" height="7.83" fill="#180000"/>
<rect x="119.18" y="546.80" width="19.02" height="7.83" fill="#D80000"/>
<rect x="43.10" y="554.03" width="19.62" height="7.83" fill="#600000"/>
<rect x="62.12" y="554.03" width="19.62" height="7.83" fill="#00D800"/>
<rect x="81.14" y="554.03" width="19.62" height="7.83" fill="#003000"/>
<rect x="100.16" y="554.03" width="19.62" height="7.83" fill="#001000"/>
<rect x="119.18" y="554.03" width="19.02" height="7.83" fill="#B80000"/>
<rect x="43.10" y="561.26" width="19.62" height="7.83" fill="#004000"/>
<rect x="62.12" y="561.26" width="19.62" height="7.83" fill="#00E000"/>
<rect x="81.14" y="561.26" width="19.62" height="7.83" fill="#600000"/>
<rect x="100.16" y="561.26" width="19.62" height="7.83" fill="#980000"/>
<rect x="119.18" y="561.26" width="19.02" height="7.83" fill="#400000"/>
<rect x="43.10" y="568.50" width="19.62" height="7.83" fill="#003800"/>
<rect x="62.12" y="568.50" width="19.62" height="7.83" fill="#00E800"/>
<rect x="81.14" y="568.50" width="19.62" height="7.83" fill="#680000"/>
<rect x="100.16" y="568.50" width="19.62" height="7.83" fill="#780000"/>
<rect x="119.18" y="568.50" width="19.02" height="7.83" fill="#400000"/>
<rect x="43.10" y="575.73" width="19.62" height="7.83" fill="#006000"/>
<rect x="62.12" y="575.73" width="19.62" height="7.83" fill="#009800"/>
<rect x="81.14" y="575.73" width="19.62" height="7.83" fill="#002800"/>
<rect x="100.16" y="575.73" width="19.62" height="7.83" fill="#500000"/>
<rect x="119.18" y="575.73" width="19.02" height="7.83" fill="#E80000"/>
<rect x="43.10" y="582.96" width="19.62" height="7.23" fill="#006000"/>
<rect x="62.12" y="582.96" width="19.62" height="7.23" fill="#007000"/>
<rect x="81.14" y="582.96" width="19.62" height="7.23" fill="#001000"/>
<rect x="100.16" y="582.96" width="19.62" height="7.23" fill="#002800"/>
<rect x="119.18" y="582.96" width="19.02" height="7.23" fill="#FF0000"/>
<text transform="translate(138.8,372.07) scale(0.988,1)" font-size="6.82" font-weight="bold" fill="#111">Luteolin-7-O-rutinoside</text>
<text transform="translate(138.8,379.30) scale(0.977,1)" font-size="6.82" font-weight="bold" fill="#111">Iso-orientin-7-O-glucoside</text>
<text transform="translate(138.8,386.53) scale(0.964,1)" font-size="6.82" font-weight="bold" fill="#111">Chrysoeriol-O-hexoside</text>
<text transform="translate(138.8,393.77) scale(0.985,1)" font-size="6.82" font-weight="bold" fill="#111">Tricin 7-O-hexoside malonylated</text>
<text transform="translate(138.8,401.00) scale(0.975,1)" font-size="6.82" font-weight="bold" fill="#111">Kaempferol-3-O-glucoside</text>
<text transform="translate(138.8,408.23) scale(0.974,1)" font-size="6.82" font-weight="bold" fill="#111">Tricin-7-O-deoxyhexosyl-O-hexoside</text>
<text transform="translate(138.8,415.46) scale(0.968,1)" font-size="6.82" font-weight="bold" fill="#111">Luteolin-6-C-hexosyl-O-hexoside</text>
<text transform="translate(138.8,422.69) scale(0.971,1)" font-size="6.82" font-weight="bold" fill="#111">Iso-vitexin-7-O-glucoside</text>
<text transform="translate(138.8,429.93) scale(0.993,1)" font-size="6.82" font-weight="bold" fill="#111">Kaempferol-3-O-rutinoside</text>
<text transform="translate(138.8,437.16) scale(0.960,1)" font-size="6.82" font-weight="bold" fill="#111">6,8-di-C-glucosyl apigenin</text>
<text transform="translate(138.8,444.39) scale(0.963,1)" font-size="6.82" font-weight="bold" fill="#111">Apigenin C-hexoside-C-pentoside</text>
<text transform="translate(138.8,451.62) scale(0.977,1)" font-size="6.82" font-weight="bold" fill="#111">Tricin-7-O-hexoside</text>
<text transform="translate(138.8,458.85) scale(0.963,1)" font-size="6.82" font-weight="bold" fill="#111">Apigenin C-hexoside-C-pentoside</text>
<text transform="translate(138.8,466.09) scale(0.981,1)" font-size="6.82" font-weight="bold" fill="#111">Rutin</text>
<text transform="translate(138.8,473.32) scale(0.971,1)" font-size="6.82" font-weight="bold" fill="#111">Luteolin-6-C-hexoside-O-hexoside</text>
<text transform="translate(138.8,480.55) scale(0.984,1)" font-size="6.82" font-weight="bold" fill="#111">Luteolin-C-[pentosyl-O-(feruoyl-O-hexoside)]</text>
<text transform="translate(138.8,487.78) scale(0.963,1)" font-size="6.82" font-weight="bold" fill="#111">Chrysoeriol-O-deoxyhexoside-C-hexoside</text>
<text transform="translate(138.8,495.01) scale(0.969,1)" font-size="6.82" font-weight="bold" fill="#111">Luteolin-C-hexoside-O-deoxyhexoside</text>
<text transform="translate(138.8,502.25) scale(0.975,1)" font-size="6.82" font-weight="bold" fill="#111">Luteolin-O-(O-caffeoyl-hexoside)-C-hexoside</text>
<text transform="translate(138.8,509.48) scale(0.955,1)" font-size="6.82" font-weight="bold" fill="#111">Apigenin-6-C-glucoside</text>
<text transform="translate(138.8,516.71) scale(0.974,1)" font-size="6.82" font-weight="bold" fill="#111">Isovitexin-6''-O-glucoside</text>
<text transform="translate(138.8,523.94) scale(0.950,1)" font-size="6.82" font-weight="bold" fill="#111">Chrysoeriol-6-C-glucoside</text>
<text transform="translate(138.8,531.17) scale(0.991,1)" font-size="6.82" font-weight="bold" fill="#111">Quercetin-3-O-dideoxypentoside</text>
<text transform="translate(138.8,538.41) scale(0.961,1)" font-size="6.82" font-weight="bold" fill="#111">Chrysoeriol-O-hexoside-C-hexoside</text>
<text transform="translate(138.8,545.64) scale(0.993,1)" font-size="6.82" font-weight="bold" fill="#111">Kaempferol-3,7-dirhamnoside</text>
<text transform="translate(138.8,552.87) scale(0.978,1)" font-size="6.82" font-weight="bold" fill="#111">8-Arabinopyranosyl-6-glucopyranosylluteolin</text>
<text transform="translate(138.8,560.10) scale(0.957,1)" font-size="6.82" font-weight="bold" fill="#111">Luteolin-6-C-glucoside</text>
<text transform="translate(138.8,567.33) scale(0.969,1)" font-size="6.82" font-weight="bold" fill="#111">Isovitexin-4-O-glucoside</text>
<text transform="translate(138.8,574.57) scale(0.971,1)" font-size="6.82" font-weight="bold" fill="#111">Chrysoeriol O-hexoside-C-(O-feruoyl-hexoside)</text>
<text transform="translate(138.8,581.80) scale(0.953,1)" font-size="6.82" font-weight="bold" fill="#111">Isoschaftoside</text>
<text transform="translate(138.8,589.03) scale(0.995,1)" font-size="6.82" font-weight="bold" fill="#111">Iso-orientin</text>
<path d="M71.6,360.6 L71.6,345.8 M71.6,345.8 L90.7,345.8 M90.7,345.8 L90.7,360.6 M109.7,360.6 L109.7,343.6 M109.7,343.6 L128.7,343.6 M128.7,343.6 L128.7,360.6 M81.1,345.8 L81.1,340.8 M81.1,340.8 L119.2,340.8 M119.2,340.8 L119.2,343.6 M52.6,360.6 L52.6,334.2 M52.6,334.2 L100.2,334.2 M100.2,334.2 L100.2,340.8" fill="none" stroke="#222" stroke-width="0.9"/>
<path d="M43.0,369.6 L41.7,369.6 M41.7,369.6 L41.7,376.8 M41.7,376.8 L43.0,376.8 M43.0,384.1 L41.9,384.1 M41.9,384.1 L41.9,391.3 M41.9,391.3 L43.0,391.3 M43.0,398.5 L41.5,398.5 M41.5,398.5 L41.5,405.8 M41.5,405.8 L43.0,405.8 M41.9,387.7 L40.3,387.7 M40.3,387.7 L40.3,402.2 M40.3,402.2 L41.5,402.2 M41.7,373.2 L38.3,373.2 M38.3,373.2 L38.3,394.9 M38.3,394.9 L40.3,394.9 M43.0,420.2 L42.0,420.2 M42.0,420.2 L42.0,427.5 M42.0,427.5 L43.0,427.5 M42.0,423.9 L41.6,423.9 M41.6,423.9 L41.6,434.7 M41.6,434.7 L43.0,434.7 M43.0,413.0 L40.6,413.0 M40.6,413.0 L40.6,428.9 M40.6,428.9 L41.6,428.9 M43.0,441.9 L41.1,441.9 M41.1,441.9 L41.1,449.2 M41.1,449.2 L43.0,449.2 M43.0,456.4 L42.0,456.4 M42.0,456.4 L42.0,463.6 M42.0,463.6 L43.0,463.6 M42.0,460.0 L41.5,460.0 M41.5,460.0 L41.5,470.9 M41.5,470.9 L43.0,470.9 M41.5,465.1 L40.7,465.1 M40.7,465.1 L40.7,478.1 M40.7,478.1 L43.0,478.1 M41.1,445.6 L37.2,445.6 M37.2,445.6 L37.2,471.6 M37.2,471.6 L40.7,471.6 M40.6,421.2 L34.6,421.2 M34.6,421.2 L34.6,458.6 M34.6,458.6 L37.2,458.6 M38.3,384.1 L34.1,384.1 M34.1,384.1 L34.1,436.9 M34.1,436.9 L34.6,436.9 M43.0,485.3 L40.5,485.3 M40.5,485.3 L40.5,492.6 M40.5,492.6 L43.0,492.6 M40.5,488.9 L39.5,488.9 M39.5,488.9 L39.5,499.8 M39.5,499.8 L43.0,499.8 M43.0,507.0 L39.8,507.0 M39.8,507.0 L39.8,514.3 M39.8,514.3 L43.0,514.3 M39.5,494.0 L33.1,494.0 M33.1,494.0 L33.1,510.6 M33.1,510.6 L39.8,510.6 M43.0,521.5 L41.5,521.5 M41.5,521.5 L41.5,528.7 M41.5,528.7 L43.0,528.7 M41.5,525.1 L40.5,525.1 M40.5,525.1 L40.5,536.0 M40.5,536.0 L43.0,536.0 M43.0,543.2 L41.5,543.2 M41.5,543.2 L41.5,550.4 M41.5,550.4 L43.0,550.4 M41.5,546.8 L40.8,546.8 M40.8,546.8 L40.8,557.6 M40.8,557.6 L43.0,557.6 M40.5,530.2 L39.4,530.2 M39.4,530.2 L39.4,551.9 M39.4,551.9 L40.8,551.9 M43.0,564.9 L41.5,564.9 M41.5,564.9 L41.5,572.1 M41.5,572.1 L43.0,572.1 M43.0,579.3 L41.5,579.3 M41.5,579.3 L41.5,586.6 M41.5,586.6 L43.0,586.6 M41.5,568.5 L37.3,568.5 M37.3,568.5 L37.3,583.0 M37.3,583.0 L41.5,583.0 M39.4,541.0 L32.3,541.0 M32.3,541.0 L32.3,575.7 M32.3,575.7 L37.3,575.7 M33.1,502.0 L23.6,502.0 M23.6,502.0 L23.6,557.6 M23.6,557.6 L32.3,557.6 M34.1,410.5 L16.6,410.5 M16.6,410.5 L16.6,530.2 M16.6,530.2 L23.6,530.2" fill="none" stroke="#222" stroke-width="0.6"/>
<rect x="309.40" y="363.8" width="13.50" height="4.0" fill="#42D4F4"/>
<rect x="322.30" y="363.8" width="13.50" height="4.0" fill="#F032E6"/>
<rect x="335.20" y="363.8" width="13.50" height="4.0" fill="#DC143C"/>
<rect x="348.10" y="363.8" width="13.50" height="4.0" fill="#3CB44B"/>
<rect x="361.00" y="363.8" width="12.90" height="4.0" fill="#4363D8"/>
<rect x="309.40" y="369.50" width="13.50" height="7.86" fill="#00F000"/>
<rect x="322.30" y="369.50" width="13.50" height="7.86" fill="#001800"/>
<rect x="335.20" y="369.50" width="13.50" height="7.86" fill="#600000"/>
<rect x="348.10" y="369.50" width="13.50" height="7.86" fill="#600000"/>
<rect x="361.00" y="369.50" width="12.90" height="7.86" fill="#680000"/>
<rect x="309.40" y="376.76" width="13.50" height="7.86" fill="#006000"/>
<rect x="322.30" y="376.76" width="13.50" height="7.86" fill="#006000"/>
<rect x="335.20" y="376.76" width="13.50" height="7.86" fill="#A80000"/>
<rect x="348.10" y="376.76" width="13.50" height="7.86" fill="#980000"/>
<rect x="361.00" y="376.76" width="12.90" height="7.86" fill="#006800"/>
<rect x="309.40" y="384.02" width="13.50" height="7.86" fill="#004800"/>
<rect x="322.30" y="384.02" width="13.50" height="7.86" fill="#009800"/>
<rect x="335.20" y="384.02" width="13.50" height="7.86" fill="#780000"/>
<rect x="348.10" y="384.02" width="13.50" height="7.86" fill="#C00000"/>
<rect x="361.00" y="384.02" width="12.90" height="7.86" fill="#003800"/>
<rect x="309.40" y="391.28" width="13.50" height="7.86" fill="#C00000"/>
<rect x="322.30" y="391.28" width="13.50" height="7.86" fill="#000800"/>
<rect x="335.20" y="391.28" width="13.50" height="7.86" fill="#580000"/>
<rect x="348.10" y="391.28" width="13.50" height="7.86" fill="#006000"/>
<rect x="361.00" y="391.28" width="12.90" height="7.86" fill="#009800"/>
<rect x="309.40" y="398.54" width="13.50" height="7.86" fill="#003800"/>
<rect x="322.30" y="398.54" width="13.50" height="7.86" fill="#001800"/>
<rect x="335.20" y="398.54" width="13.50" height="7.86" fill="#FF0000"/>
<rect x="348.10" y="398.54" width="13.50" height="7.86" fill="#004800"/>
<rect x="361.00" y="398.54" width="12.90" height="7.86" fill="#006800"/>
<rect x="309.40" y="405.80" width="13.50" height="7.86" fill="#002000"/>
<rect x="322.30" y="405.80" width="13.50" height="7.86" fill="#004800"/>
<rect x="335.20" y="405.80" width="13.50" height="7.86" fill="#F80000"/>
<rect x="348.10" y="405.80" width="13.50" height="7.86" fill="#008800"/>
<rect x="361.00" y="405.80" width="12.90" height="7.86" fill="#000800"/>
<rect x="309.40" y="413.06" width="13.50" height="7.86" fill="#002000"/>
<rect x="322.30" y="413.06" width="13.50" height="7.86" fill="#FF0000"/>
<rect x="335.20" y="413.06" width="13.50" height="7.86" fill="#005800"/>
<rect x="348.10" y="413.06" width="13.50" height="7.86" fill="#006000"/>
<rect x="361.00" y="413.06" width="12.90" height="7.86" fill="#003800"/>
<rect x="309.40" y="420.32" width="13.50" height="7.86" fill="#380000"/>
<rect x="322.30" y="420.32" width="13.50" height="7.86" fill="#E80000"/>
<rect x="335.20" y="420.32" width="13.50" height="7.86" fill="#007800"/>
<rect x="348.10" y="420.32" width="13.50" height="7.86" fill="#008000"/>
<rect x="361.00" y="420.32" width="12.90" height="7.86" fill="#002800"/>
<rect x="309.40" y="427.58" width="13.50" height="7.86" fill="#180000"/>
<rect x="322.30" y="427.58" width="13.50" height="7.86" fill="#FF0000"/>
<rect x="335.20" y="427.58" width="13.50" height="7.86" fill="#007800"/>
<rect x="348.10" y="427.58" width="13.50" height="7.86" fill="#007800"/>
<rect x="361.00" y="427.58" width="12.90" height="7.86" fill="#003800"/>
<rect x="309.40" y="434.84" width="13.50" height="7.86" fill="#080000"/>
<rect x="322.30" y="434.84" width="13.50" height="7.86" fill="#FF0000"/>
<rect x="335.20" y="434.84" width="13.50" height="7.86" fill="#007800"/>
<rect x="348.10" y="434.84" width="13.50" height="7.86" fill="#007800"/>
<rect x="361.00" y="434.84" width="12.90" height="7.86" fill="#002000"/>
<rect x="309.40" y="442.10" width="13.50" height="7.86" fill="#180000"/>
<rect x="322.30" y="442.10" width="13.50" height="7.86" fill="#005800"/>
<rect x="335.20" y="442.10" width="13.50" height="7.86" fill="#008000"/>
<rect x="348.10" y="442.10" width="13.50" height="7.86" fill="#F00000"/>
<rect x="361.00" y="442.10" width="12.90" height="7.86" fill="#003000"/>
<rect x="309.40" y="449.36" width="13.50" height="7.26" fill="#780000"/>
<rect x="322.30" y="449.36" width="13.50" height="7.26" fill="#680000"/>
<rect x="335.20" y="449.36" width="13.50" height="7.26" fill="#00E000"/>
<rect x="348.10" y="449.36" width="13.50" height="7.26" fill="#280000"/>
<rect x="361.00" y="449.36" width="12.90" height="7.26" fill="#003800"/>
<text transform="translate(374.6,375.11) scale(0.987,1)" font-size="5.50" font-weight="bold" fill="#111">3-(3,4,5-Trihydroxyphenyl) propanoic acid</text>
<text transform="translate(374.6,382.37) scale(0.970,1)" font-size="5.50" font-weight="bold" fill="#111">9, 10(E), 12K, 15(Z) HODE</text>
<text transform="translate(374.6,389.63) scale(0.977,1)" font-size="5.50" font-weight="bold" fill="#111">12-Oxo-Phytodienoic acid</text>
<text transform="translate(374.6,396.89) scale(0.970,1)" font-size="5.50" font-weight="bold" fill="#111">Hydroxy-octadecadienoic acid</text>
<text transform="translate(374.6,404.15) scale(0.987,1)" font-size="5.50" font-weight="bold" fill="#111">9,12,13,TriHODE isomer I</text>
<text transform="translate(374.6,411.41) scale(0.979,1)" font-size="5.50" font-weight="bold" fill="#111">9-12K-10(E),15(Z)-HODE isomer II</text>
<text transform="translate(374.6,418.67) scale(0.973,1)" font-size="5.50" font-weight="bold" fill="#111">Linolenic acid derivative isomer II</text>
<text transform="translate(374.6,425.93) scale(0.969,1)" font-size="5.50" font-weight="bold" fill="#111">Dirhamnosyl linoleic acid</text>
<text transform="translate(374.6,433.19) scale(0.971,1)" font-size="5.50" font-weight="bold" fill="#111">Linolenic acid derivative isomer I</text>
<text transform="translate(374.6,440.45) scale(0.942,1)" font-size="5.50" font-weight="bold" fill="#111">Linoleic acid</text>
<text transform="translate(374.6,447.71) scale(0.973,1)" font-size="5.50" font-weight="bold" fill="#111">Trihydroxy-octadecadienoic acid</text>
<text transform="translate(374.6,454.97) scale(0.975,1)" font-size="5.50" font-weight="bold" fill="#111">Linolenic acid derivative isomer III</text>
<path d="M315.8,363.6 L315.8,347.0 M315.8,347.0 L328.8,347.0 M328.8,347.0 L328.8,363.6 M354.5,363.6 L354.5,350.0 M354.5,350.0 L367.4,350.0 M367.4,350.0 L367.4,363.6 M341.6,363.6 L341.6,344.7 M341.6,344.7 L361.0,344.7 M361.0,344.7 L361.0,350.0 M322.3,347.0 L322.3,337.7 M322.3,337.7 L351.3,337.7 M351.3,337.7 L351.3,344.7" fill="none" stroke="#222" stroke-width="0.9"/>
<path d="M309.3,380.4 L307.3,380.4 M307.3,380.4 L307.3,387.6 M307.3,387.6 L309.3,387.6 M309.3,373.1 L305.2,373.1 M305.2,373.1 L305.2,384.0 M305.2,384.0 L307.3,384.0 M309.3,402.2 L307.0,402.2 M307.0,402.2 L307.0,409.4 M307.0,409.4 L309.3,409.4 M309.3,394.9 L304.5,394.9 M304.5,394.9 L304.5,405.8 M304.5,405.8 L307.0,405.8 M305.2,378.6 L301.5,378.6 M301.5,378.6 L301.5,400.4 M301.5,400.4 L304.5,400.4 M309.3,431.2 L308.2,431.2 M308.2,431.2 L308.2,438.5 M308.2,438.5 L309.3,438.5 M309.3,423.9 L307.8,423.9 M307.8,423.9 L307.8,434.8 M307.8,434.8 L308.2,434.8 M309.3,416.7 L307.3,416.7 M307.3,416.7 L307.3,429.0 M307.3,429.0 L307.8,429.0 M309.3,445.7 L305.7,445.7 M305.7,445.7 L305.7,453.0 M305.7,453.0 L309.3,453.0 M307.3,423.2 L300.7,423.2 M300.7,423.2 L300.7,449.4 M300.7,449.4 L305.7,449.4 M301.5,389.5 L291.6,389.5 M291.6,389.5 L291.6,436.3 M291.6,436.3 L300.7,436.3" fill="none" stroke="#222" stroke-width="0.6"/>
<rect x="310.50" y="492.9" width="14.14" height="3.5" fill="#DC143C"/>
<rect x="324.04" y="492.9" width="14.14" height="3.5" fill="#4363D8"/>
<rect x="337.58" y="492.9" width="14.14" height="3.5" fill="#F032E6"/>
<rect x="351.12" y="492.9" width="14.14" height="3.5" fill="#3CB44B"/>
<rect x="364.66" y="492.9" width="13.54" height="3.5" fill="#42D4F4"/>
<rect x="310.50" y="498.00" width="14.14" height="7.13" fill="#001800"/>
<rect x="324.04" y="498.00" width="14.14" height="7.13" fill="#008800"/>
<rect x="337.58" y="498.00" width="14.14" height="7.13" fill="#006800"/>
<rect x="351.12" y="498.00" width="14.14" height="7.13" fill="#500000"/>
<rect x="364.66" y="498.00" width="13.54" height="7.13" fill="#D80000"/>
<rect x="310.50" y="504.54" width="14.14" height="7.13" fill="#004800"/>
<rect x="324.04" y="504.54" width="14.14" height="7.13" fill="#004000"/>
<rect x="337.58" y="504.54" width="14.14" height="7.13" fill="#006800"/>
<rect x="351.12" y="504.54" width="14.14" height="7.13" fill="#080000"/>
<rect x="364.66" y="504.54" width="13.54" height="7.13" fill="#FF0000"/>
<rect x="310.50" y="511.07" width="14.14" height="7.13" fill="#008800"/>
<rect x="324.04" y="511.07" width="14.14" height="7.13" fill="#007000"/>
<rect x="337.58" y="511.07" width="14.14" height="7.13" fill="#001800"/>
<rect x="351.12" y="511.07" width="14.14" height="7.13" fill="#A80000"/>
<rect x="364.66" y="511.07" width="13.54" height="7.13" fill="#880000"/>
<rect x="310.50" y="517.61" width="14.14" height="7.13" fill="#300000"/>
<rect x="324.04" y="517.61" width="14.14" height="7.13" fill="#007000"/>
<rect x="337.58" y="517.61" width="14.14" height="7.13" fill="#00A800"/>
<rect x="351.12" y="517.61" width="14.14" height="7.13" fill="#880000"/>
<rect x="364.66" y="517.61" width="13.54" height="7.13" fill="#980000"/>
<rect x="310.50" y="524.14" width="14.14" height="7.13" fill="#001800"/>
<rect x="324.04" y="524.14" width="14.14" height="7.13" fill="#007000"/>
<rect x="337.58" y="524.14" width="14.14" height="7.13" fill="#009000"/>
<rect x="351.12" y="524.14" width="14.14" height="7.13" fill="#D80000"/>
<rect x="364.66" y="524.14" width="13.54" height="7.13" fill="#500000"/>
<rect x="310.50" y="530.67" width="14.14" height="7.13" fill="#005000"/>
<rect x="324.04" y="530.67" width="14.14" height="7.13" fill="#004000"/>
<rect x="337.58" y="530.67" width="14.14" height="7.13" fill="#008800"/>
<rect x="351.12" y="530.67" width="14.14" height="7.13" fill="#E00000"/>
<rect x="364.66" y="530.67" width="13.54" height="7.13" fill="#500000"/>
<rect x="310.50" y="537.21" width="14.14" height="7.13" fill="#001800"/>
<rect x="324.04" y="537.21" width="14.14" height="7.13" fill="#006000"/>
<rect x="337.58" y="537.21" width="14.14" height="7.13" fill="#003000"/>
<rect x="351.12" y="537.21" width="14.14" height="7.13" fill="#FF0000"/>
<rect x="364.66" y="537.21" width="13.54" height="7.13" fill="#006000"/>
<rect x="310.50" y="543.75" width="14.14" height="7.13" fill="#005800"/>
<rect x="324.04" y="543.75" width="14.14" height="7.13" fill="#001800"/>
<rect x="337.58" y="543.75" width="14.14" height="7.13" fill="#000000"/>
<rect x="351.12" y="543.75" width="14.14" height="7.13" fill="#F80000"/>
<rect x="364.66" y="543.75" width="13.54" height="7.13" fill="#008800"/>
<rect x="310.50" y="550.28" width="14.14" height="7.13" fill="#980000"/>
<rect x="324.04" y="550.28" width="14.14" height="7.13" fill="#200000"/>
<rect x="337.58" y="550.28" width="14.14" height="7.13" fill="#007800"/>
<rect x="351.12" y="550.28" width="14.14" height="7.13" fill="#900000"/>
<rect x="364.66" y="550.28" width="13.54" height="7.13" fill="#00B000"/>
<rect x="310.50" y="556.82" width="14.14" height="7.13" fill="#200000"/>
<rect x="324.04" y="556.82" width="14.14" height="7.13" fill="#200000"/>
<rect x="337.58" y="556.82" width="14.14" height="7.13" fill="#009800"/>
<rect x="351.12" y="556.82" width="14.14" height="7.13" fill="#E80000"/>
<rect x="364.66" y="556.82" width="13.54" height="7.13" fill="#006000"/>
<rect x="310.50" y="563.35" width="14.14" height="7.13" fill="#D80000"/>
<rect x="324.04" y="563.35" width="14.14" height="7.13" fill="#006000"/>
<rect x="337.58" y="563.35" width="14.14" height="7.13" fill="#008800"/>
<rect x="351.12" y="563.35" width="14.14" height="7.13" fill="#003000"/>
<rect x="364.66" y="563.35" width="13.54" height="7.13" fill="#580000"/>
<rect x="310.50" y="569.88" width="14.14" height="7.13" fill="#D00000"/>
<rect x="324.04" y="569.88" width="14.14" height="7.13" fill="#006800"/>
<rect x="337.58" y="569.88" width="14.14" height="7.13" fill="#006000"/>
<rect x="351.12" y="569.88" width="14.14" height="7.13" fill="#700000"/>
<rect x="364.66" y="569.88" width="13.54" height="7.13" fill="#006800"/>
<rect x="310.50" y="576.42" width="14.14" height="7.13" fill="#C80000"/>
<rect x="324.04" y="576.42" width="14.14" height="7.13" fill="#008000"/>
<rect x="337.58" y="576.42" width="14.14" height="7.13" fill="#007800"/>
<rect x="351.12" y="576.42" width="14.14" height="7.13" fill="#780000"/>
<rect x="364.66" y="576.42" width="13.54" height="7.13" fill="#003000"/>
<rect x="310.50" y="582.96" width="14.14" height="7.13" fill="#B80000"/>
<rect x="324.04" y="582.96" width="14.14" height="7.13" fill="#280000"/>
<rect x="337.58" y="582.96" width="14.14" height="7.13" fill="#500000"/>
<rect x="351.12" y="582.96" width="14.14" height="7.13" fill="#00C800"/>
<rect x="364.66" y="582.96" width="13.54" height="7.13" fill="#006000"/>
<rect x="310.50" y="589.49" width="14.14" height="6.54" fill="#000000"/>
<rect x="324.04" y="589.49" width="14.14" height="6.54" fill="#FF0000"/>
<rect x="337.58" y="589.49" width="14.14" height="6.54" fill="#006000"/>
<rect x="351.12" y="589.49" width="14.14" height="6.54" fill="#001800"/>
<rect x="364.66" y="589.49" width="13.54" height="6.54" fill="#007000"/>
<text transform="translate(379.0,503.25) scale(0.975,1)" font-size="5.52" font-weight="bold" fill="#111">Coumarin</text>
<text transform="translate(379.0,509.79) scale(0.973,1)" font-size="5.52" font-weight="bold" fill="#111">Caffeoyl</text>
<text transform="translate(379.0,516.32) scale(0.969,1)" font-size="5.52" font-weight="bold" fill="#111">1-O-sinapoyl-β-O-glucoside</text>
<text transform="translate(379.0,522.86) scale(0.984,1)" font-size="5.52" font-weight="bold" fill="#111">Coumaroyl agmatine</text>
<text transform="translate(379.0,529.39) scale(0.970,1)" font-size="5.52" font-weight="bold" fill="#111">Feruloyl putrescine</text>
<text transform="translate(379.0,535.93) scale(0.984,1)" font-size="5.52" font-weight="bold" fill="#111">Feruloyl agmatine</text>
<text transform="translate(379.0,542.46) scale(0.976,1)" font-size="5.52" font-weight="bold" fill="#111">Sinapoyl hydroxyagmatine</text>
<text transform="translate(379.0,549.00) scale(0.966,1)" font-size="5.52" font-weight="bold" fill="#111">3-Feruloyl quinic acid</text>
<text transform="translate(379.0,555.53) scale(0.968,1)" font-size="5.52" font-weight="bold" fill="#111">3-Feruloyl quinic acid isomer</text>
<text transform="translate(379.0,562.07) scale(0.973,1)" font-size="5.52" font-weight="bold" fill="#111">Dihydro ferulic acid</text>
<text transform="translate(379.0,568.60) scale(0.982,1)" font-size="5.52" font-weight="bold" fill="#111"><tspan font-style="italic">N</tspan>-Feruloyl spermidine</text>
<text transform="translate(379.0,575.14) scale(0.970,1)" font-size="5.52" font-weight="bold" fill="#111">Feruloyl</text>
<text transform="translate(379.0,581.67) scale(0.970,1)" font-size="5.52" font-weight="bold" fill="#111"><tspan font-style="italic">N</tspan>-Sinapoyl putrescine</text>
<text transform="translate(379.0,588.21) scale(0.962,1)" font-size="5.52" font-weight="bold" fill="#111">4-Coumaric acid</text>
<text transform="translate(379.0,594.74) scale(0.988,1)" font-size="5.52" font-weight="bold" fill="#111"><tspan font-style="italic">N</tspan>-Feruloyl agmatine</text>
<path d="M330.8,492.7 L330.8,482.8 M330.8,482.8 L344.4,482.8 M344.4,482.8 L344.4,492.7 M317.3,492.7 L317.3,475.6 M317.3,475.6 L337.6,475.6 M337.6,475.6 L337.6,482.8 M357.9,492.7 L357.9,474.9 M357.9,474.9 L371.4,474.9 M371.4,474.9 L371.4,492.7 M327.4,475.6 L327.4,469.1 M327.4,469.1 L364.7,469.1 M364.7,469.1 L364.7,474.9" fill="none" stroke="#222" stroke-width="0.9"/>
<path d="M310.4,501.3 L308.6,501.3 M308.6,501.3 L308.6,507.8 M308.6,507.8 L310.4,507.8 M308.6,504.5 L306.5,504.5 M306.5,504.5 L306.5,514.3 M306.5,514.3 L310.4,514.3 M310.4,527.4 L308.8,527.4 M308.8,527.4 L308.8,533.9 M308.8,533.9 L310.4,533.9 M310.4,520.9 L307.5,520.9 M307.5,520.9 L307.5,530.7 M307.5,530.7 L308.8,530.7 M306.5,509.1 L304.6,509.1 M304.6,509.1 L304.6,526.1 M304.6,526.1 L307.5,526.1 M310.4,540.5 L307.5,540.5 M307.5,540.5 L307.5,547.0 M307.5,547.0 L310.4,547.0 M310.4,553.5 L307.0,553.5 M307.0,553.5 L307.0,560.1 M307.0,560.1 L310.4,560.1 M307.5,543.7 L305.4,543.7 M305.4,543.7 L305.4,556.8 M305.4,556.8 L307.0,556.8 M310.4,573.2 L308.8,573.2 M308.8,573.2 L308.8,579.7 M308.8,579.7 L310.4,579.7 M310.4,566.6 L306.5,566.6 M306.5,566.6 L306.5,576.4 M306.5,576.4 L308.8,576.4 M310.4,586.2 L304.8,586.2 M304.8,586.2 L304.8,592.8 M304.8,592.8 L310.4,592.8 M306.5,571.8 L299.9,571.8 M299.9,571.8 L299.9,589.5 M299.9,589.5 L304.8,589.5 M305.4,550.3 L299.5,550.3 M299.5,550.3 L299.5,581.0 M299.5,581.0 L299.9,581.0 M304.6,517.6 L292.3,517.6 M292.3,517.6 L292.3,566.0 M292.3,566.0 L299.5,566.0" fill="none" stroke="#222" stroke-width="0.6"/>
<defs><linearGradient id="lg" x1="0" y1="0" x2="0" y2="1"><stop offset="0" stop-color="#FF0000"/><stop offset="0.5" stop-color="#000"/><stop offset="1" stop-color="#00FF00"/></linearGradient></defs>
<rect x="459.3" y="556" width="2.5" height="39.6" fill="url(#lg)"/>
<text x="468.8" y="561.2" font-size="5.5" font-weight="bold" fill="#111" text-anchor="end">4</text>
<text x="468.8" y="570.2" font-size="5.5" font-weight="bold" fill="#111" text-anchor="end">2</text>
<text x="468.8" y="579.1" font-size="5.5" font-weight="bold" fill="#111" text-anchor="end">0</text>
<text x="468.8" y="588.0" font-size="5.5" font-weight="bold" fill="#111" text-anchor="end">-2</text>
<text x="468.8" y="596.7" font-size="5.5" font-weight="bold" fill="#111" text-anchor="end">-4</text>
<rect x="474.5" y="556.00" width="8.2" height="7.9" fill="#DC143C"/>
<text transform="translate(484,562.70) scale(0.926,1)" font-size="8.81" font-weight="bold" fill="#111">Elands</text>
<rect x="474.5" y="563.86" width="8.2" height="7.9" fill="#3CB44B"/>
<text transform="translate(484,570.56) scale(0.983,1)" font-size="8.81" font-weight="bold" fill="#111">Gariep</text>
<rect x="474.5" y="571.72" width="8.2" height="7.9" fill="#4363D8"/>
<text transform="translate(484,578.42) scale(0.963,1)" font-size="8.81" font-weight="bold" fill="#111">Koonap</text>
<rect x="474.5" y="579.58" width="8.2" height="7.9" fill="#42D4F4"/>
<text transform="translate(484,586.28) scale(1.020,1)" font-size="8.81" font-weight="bold" fill="#111">Matlabas</text>
<rect x="474.5" y="587.44" width="8.2" height="7.9" fill="#F032E6"/>
<text transform="translate(484,594.14) scale(0.951,1)" font-size="8.81" font-weight="bold" fill="#111">Senqu</text>
<text x="484" y="553.7" font-size="6.5" font-style="italic" fill="#111" textLength="15.1" lengthAdjust="spacingAndGlyphs">Class</text>
<text transform="translate(9.85,15.05) scale(0.991,1)" font-size="9.79" font-weight="bold" fill="#111">A]</text>
<text transform="translate(17.8,341.0) scale(0.943,1)" font-size="9.79" font-weight="normal" fill="#111">B]</text>
<text transform="translate(292.0,346.4) scale(0.909,1)" font-size="9.79" font-weight="bold" fill="#111">C]</text>
<text transform="translate(292.3,476.4) scale(1.017,1)" font-size="9.79" font-weight="bold" fill="#111">D]</text>
</svg></body></html>
